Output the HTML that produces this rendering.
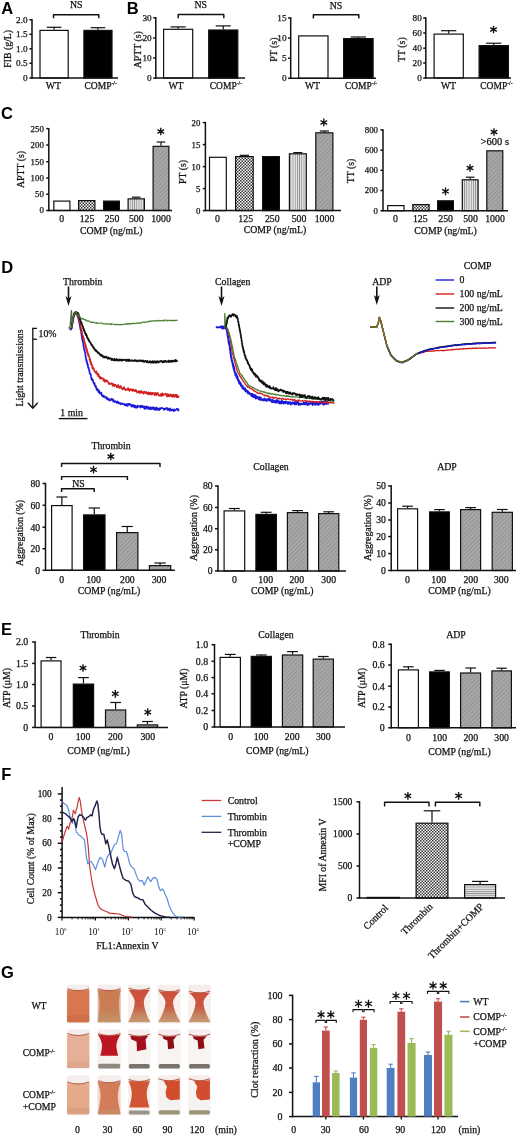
<!DOCTYPE html>
<html><head><meta charset="utf-8"><title>Figure</title>
<style>html,body{margin:0;padding:0;background:#fff;width:520px;height:1136px;overflow:hidden}svg{display:block;filter:blur(0.6px)}</style>
</head><body>
<svg width="520" height="1136" viewBox="0 0 520 1136"><defs>
<pattern id="chk" width="3" height="3" patternUnits="userSpaceOnUse"><rect width="3" height="3" fill="#fff"/><rect width="1.5" height="1.5" fill="#333"/><rect x="1.5" y="1.5" width="1.5" height="1.5" fill="#333"/></pattern>
<pattern id="vst" width="2.2" height="4" patternUnits="userSpaceOnUse"><rect width="2.2" height="4" fill="#e8e8e8"/><rect width="0.8" height="4" fill="#888"/></pattern>
<pattern id="hst" width="4" height="2.2" patternUnits="userSpaceOnUse"><rect width="4" height="2.2" fill="#e4e4e4"/><rect width="4" height="0.8" fill="#8a8a8a"/></pattern>
<pattern id="dg" width="3" height="3" patternUnits="userSpaceOnUse" patternTransform="rotate(45)"><rect width="3" height="3" fill="#a8a8a8"/><rect width="1" height="3" fill="#939393"/></pattern>
<linearGradient id="hg1" x1="0" y1="0" x2="0" y2="1"><stop offset="0" stop-color="#cf4e3c"/><stop offset="0.5" stop-color="#c95a42"/><stop offset="0.75" stop-color="#c48260"/><stop offset="1" stop-color="#c89a72"/></linearGradient><linearGradient id="hg2" x1="0" y1="0" x2="0" y2="1"><stop offset="0" stop-color="#cc7a52"/><stop offset="0.6" stop-color="#c97e56"/><stop offset="1" stop-color="#c49468"/></linearGradient><filter id="blur" x="-10%" y="-10%" width="120%" height="120%"><feGaussianBlur stdDeviation="0.7"/></filter></defs><rect width="520" height="1136" fill="#fff"/><text x="1.20" y="13.71" font-size="16.5" font-family='"Liberation Sans", sans-serif' font-weight="bold" fill="#000">A</text>
<line x1="32.00" y1="19.10" x2="32.00" y2="78.70" stroke="#111" stroke-width="1.5"/>
<line x1="29.40" y1="19.80" x2="32.00" y2="19.80" stroke="#111" stroke-width="1.5"/>
<text x="27.60" y="22.93" font-size="9.2" text-anchor="end" font-family='"Liberation Serif", serif' font-weight="normal" fill="#111" stroke="#111" stroke-width="0.25">2.0</text>
<line x1="29.40" y1="34.30" x2="32.00" y2="34.30" stroke="#111" stroke-width="1.5"/>
<text x="27.60" y="37.43" font-size="9.2" text-anchor="end" font-family='"Liberation Serif", serif' font-weight="normal" fill="#111" stroke="#111" stroke-width="0.25">1.5</text>
<line x1="29.40" y1="48.80" x2="32.00" y2="48.80" stroke="#111" stroke-width="1.5"/>
<text x="27.60" y="51.93" font-size="9.2" text-anchor="end" font-family='"Liberation Serif", serif' font-weight="normal" fill="#111" stroke="#111" stroke-width="0.25">1.0</text>
<line x1="29.40" y1="63.30" x2="32.00" y2="63.30" stroke="#111" stroke-width="1.5"/>
<text x="27.60" y="66.43" font-size="9.2" text-anchor="end" font-family='"Liberation Serif", serif' font-weight="normal" fill="#111" stroke="#111" stroke-width="0.25">0.5</text>
<line x1="29.40" y1="78.00" x2="32.00" y2="78.00" stroke="#111" stroke-width="1.5"/>
<text x="27.60" y="81.13" font-size="9.2" text-anchor="end" font-family='"Liberation Serif", serif' font-weight="normal" fill="#111" stroke="#111" stroke-width="0.25">0</text>
<rect x="40.00" y="30.40" width="28.20" height="47.60" fill="#fff" stroke="#111" stroke-width="1.2"/>
<line x1="54.10" y1="29.80" x2="54.10" y2="27.30" stroke="#111" stroke-width="1.2"/>
<line x1="46.75" y1="27.30" x2="61.45" y2="27.30" stroke="#111" stroke-width="1.2"/>
<rect x="83.90" y="30.40" width="28.10" height="47.60" fill="#000" stroke="#111" stroke-width="1.2"/>
<line x1="97.95" y1="29.80" x2="97.95" y2="27.70" stroke="#111" stroke-width="1.2"/>
<line x1="90.62" y1="27.70" x2="105.27" y2="27.70" stroke="#111" stroke-width="1.2"/>
<line x1="32.00" y1="78.00" x2="118.00" y2="78.00" stroke="#111" stroke-width="1.5"/>
<polyline points="53.5,18.2 53.5,14.7 98.8,14.7 98.8,18.2" fill="none" stroke="#111" stroke-width="1.45" stroke-linejoin="round"/>
<text x="76.30" y="8.33" font-size="9.8" text-anchor="middle" font-family='"Liberation Serif", serif' font-weight="normal" fill="#111" stroke="#111" stroke-width="0.25">NS</text>
<text x="53.40" y="89.13" font-size="9.8" text-anchor="middle" font-family='"Liberation Serif", serif' font-weight="normal" fill="#111" stroke="#111" stroke-width="0.25">WT</text>
<text x="84.49" y="88.83" font-size="9.5" font-family='"Liberation Serif", serif' fill="#111" stroke="#111" stroke-width="0.25">COMP<tspan font-size="5.70" dy="-3.61">-/-</tspan></text>
<text x="7.30" y="52.13" font-size="9.8" text-anchor="middle" font-family='"Liberation Serif", serif' font-weight="normal" fill="#111" stroke="#111" stroke-width="0.25" transform="rotate(-90 7.30 48.80)">FIB (g/L)</text>
<text x="126.70" y="13.71" font-size="16.5" font-family='"Liberation Sans", sans-serif' font-weight="bold" fill="#000">B</text>
<line x1="155.80" y1="17.10" x2="155.80" y2="78.80" stroke="#111" stroke-width="1.5"/>
<line x1="153.20" y1="17.80" x2="155.80" y2="17.80" stroke="#111" stroke-width="1.5"/>
<text x="151.60" y="20.93" font-size="9.2" text-anchor="end" font-family='"Liberation Serif", serif' font-weight="normal" fill="#111" stroke="#111" stroke-width="0.25">30</text>
<line x1="153.20" y1="37.90" x2="155.80" y2="37.90" stroke="#111" stroke-width="1.5"/>
<text x="151.60" y="41.03" font-size="9.2" text-anchor="end" font-family='"Liberation Serif", serif' font-weight="normal" fill="#111" stroke="#111" stroke-width="0.25">20</text>
<line x1="153.20" y1="58.00" x2="155.80" y2="58.00" stroke="#111" stroke-width="1.5"/>
<text x="151.60" y="61.13" font-size="9.2" text-anchor="end" font-family='"Liberation Serif", serif' font-weight="normal" fill="#111" stroke="#111" stroke-width="0.25">10</text>
<line x1="153.20" y1="78.10" x2="155.80" y2="78.10" stroke="#111" stroke-width="1.5"/>
<text x="151.60" y="81.23" font-size="9.2" text-anchor="end" font-family='"Liberation Serif", serif' font-weight="normal" fill="#111" stroke="#111" stroke-width="0.25">0</text>
<rect x="163.60" y="29.30" width="29.10" height="48.80" fill="#fff" stroke="#111" stroke-width="1.2"/>
<line x1="178.15" y1="28.70" x2="178.15" y2="26.90" stroke="#111" stroke-width="1.2"/>
<line x1="170.57" y1="26.90" x2="185.73" y2="26.90" stroke="#111" stroke-width="1.2"/>
<rect x="208.70" y="30.00" width="29.10" height="48.10" fill="#000" stroke="#111" stroke-width="1.2"/>
<line x1="223.25" y1="29.40" x2="223.25" y2="25.90" stroke="#111" stroke-width="1.2"/>
<line x1="215.68" y1="25.90" x2="230.82" y2="25.90" stroke="#111" stroke-width="1.2"/>
<line x1="155.80" y1="78.10" x2="245.00" y2="78.10" stroke="#111" stroke-width="1.5"/>
<polyline points="178.2,18.2 178.2,14.5 223.8,14.5 223.8,18.2" fill="none" stroke="#111" stroke-width="1.45" stroke-linejoin="round"/>
<text x="200.80" y="8.33" font-size="9.8" text-anchor="middle" font-family='"Liberation Serif", serif' font-weight="normal" fill="#111" stroke="#111" stroke-width="0.25">NS</text>
<text x="176.00" y="89.13" font-size="9.8" text-anchor="middle" font-family='"Liberation Serif", serif' font-weight="normal" fill="#111" stroke="#111" stroke-width="0.25">WT</text>
<text x="209.79" y="88.83" font-size="9.5" font-family='"Liberation Serif", serif' fill="#111" stroke="#111" stroke-width="0.25">COMP<tspan font-size="5.70" dy="-3.61">-/-</tspan></text>
<text x="137.20" y="53.13" font-size="9.8" text-anchor="middle" font-family='"Liberation Serif", serif' font-weight="normal" fill="#111" stroke="#111" stroke-width="0.25" transform="rotate(-90 137.20 49.80)">APTT (s)</text>
<line x1="290.70" y1="17.30" x2="290.70" y2="79.00" stroke="#111" stroke-width="1.5"/>
<line x1="288.10" y1="18.00" x2="290.70" y2="18.00" stroke="#111" stroke-width="1.5"/>
<text x="286.50" y="21.13" font-size="9.2" text-anchor="end" font-family='"Liberation Serif", serif' font-weight="normal" fill="#111" stroke="#111" stroke-width="0.25">15</text>
<line x1="288.10" y1="38.10" x2="290.70" y2="38.10" stroke="#111" stroke-width="1.5"/>
<text x="286.50" y="41.23" font-size="9.2" text-anchor="end" font-family='"Liberation Serif", serif' font-weight="normal" fill="#111" stroke="#111" stroke-width="0.25">10</text>
<line x1="288.10" y1="58.20" x2="290.70" y2="58.20" stroke="#111" stroke-width="1.5"/>
<text x="286.50" y="61.33" font-size="9.2" text-anchor="end" font-family='"Liberation Serif", serif' font-weight="normal" fill="#111" stroke="#111" stroke-width="0.25">5</text>
<line x1="288.10" y1="78.30" x2="290.70" y2="78.30" stroke="#111" stroke-width="1.5"/>
<text x="286.50" y="81.43" font-size="9.2" text-anchor="end" font-family='"Liberation Serif", serif' font-weight="normal" fill="#111" stroke="#111" stroke-width="0.25">0</text>
<rect x="298.70" y="35.90" width="29.30" height="42.40" fill="#fff" stroke="#111" stroke-width="1.2"/>
<rect x="343.60" y="38.60" width="29.50" height="39.70" fill="#000" stroke="#111" stroke-width="1.2"/>
<line x1="358.35" y1="38.00" x2="358.35" y2="37.00" stroke="#111" stroke-width="1.2"/>
<line x1="350.68" y1="37.00" x2="366.03" y2="37.00" stroke="#111" stroke-width="1.2"/>
<line x1="290.50" y1="78.30" x2="376.00" y2="78.30" stroke="#111" stroke-width="1.5"/>
<polyline points="313.4,18.6 313.4,14.8 358.8,14.8 358.8,18.6" fill="none" stroke="#111" stroke-width="1.45" stroke-linejoin="round"/>
<text x="336.00" y="8.63" font-size="9.8" text-anchor="middle" font-family='"Liberation Serif", serif' font-weight="normal" fill="#111" stroke="#111" stroke-width="0.25">NS</text>
<text x="312.50" y="89.13" font-size="9.8" text-anchor="middle" font-family='"Liberation Serif", serif' font-weight="normal" fill="#111" stroke="#111" stroke-width="0.25">WT</text>
<text x="344.89" y="88.83" font-size="9.5" font-family='"Liberation Serif", serif' fill="#111" stroke="#111" stroke-width="0.25">COMP<tspan font-size="5.70" dy="-3.61">-/-</tspan></text>
<text x="273.60" y="52.93" font-size="9.8" text-anchor="middle" font-family='"Liberation Serif", serif' font-weight="normal" fill="#111" stroke="#111" stroke-width="0.25" transform="rotate(-90 273.60 49.60)">PT (s)</text>
<line x1="425.80" y1="17.30" x2="425.80" y2="78.70" stroke="#111" stroke-width="1.5"/>
<line x1="423.20" y1="18.00" x2="425.80" y2="18.00" stroke="#111" stroke-width="1.5"/>
<text x="421.80" y="21.13" font-size="9.2" text-anchor="end" font-family='"Liberation Serif", serif' font-weight="normal" fill="#111" stroke="#111" stroke-width="0.25">80</text>
<line x1="423.20" y1="33.00" x2="425.80" y2="33.00" stroke="#111" stroke-width="1.5"/>
<text x="421.80" y="36.13" font-size="9.2" text-anchor="end" font-family='"Liberation Serif", serif' font-weight="normal" fill="#111" stroke="#111" stroke-width="0.25">60</text>
<line x1="423.20" y1="48.20" x2="425.80" y2="48.20" stroke="#111" stroke-width="1.5"/>
<text x="421.80" y="51.33" font-size="9.2" text-anchor="end" font-family='"Liberation Serif", serif' font-weight="normal" fill="#111" stroke="#111" stroke-width="0.25">40</text>
<line x1="423.20" y1="63.00" x2="425.80" y2="63.00" stroke="#111" stroke-width="1.5"/>
<text x="421.80" y="66.13" font-size="9.2" text-anchor="end" font-family='"Liberation Serif", serif' font-weight="normal" fill="#111" stroke="#111" stroke-width="0.25">20</text>
<line x1="423.20" y1="78.00" x2="425.80" y2="78.00" stroke="#111" stroke-width="1.5"/>
<text x="421.80" y="81.13" font-size="9.2" text-anchor="end" font-family='"Liberation Serif", serif' font-weight="normal" fill="#111" stroke="#111" stroke-width="0.25">0</text>
<rect x="434.10" y="34.10" width="29.20" height="43.90" fill="#fff" stroke="#111" stroke-width="1.2"/>
<line x1="448.70" y1="33.50" x2="448.70" y2="30.70" stroke="#111" stroke-width="1.2"/>
<line x1="441.10" y1="30.70" x2="456.30" y2="30.70" stroke="#111" stroke-width="1.2"/>
<rect x="479.10" y="45.60" width="29.30" height="32.40" fill="#000" stroke="#111" stroke-width="1.2"/>
<line x1="493.75" y1="45.00" x2="493.75" y2="43.20" stroke="#111" stroke-width="1.2"/>
<line x1="486.12" y1="43.20" x2="501.38" y2="43.20" stroke="#111" stroke-width="1.2"/>
<line x1="425.40" y1="78.00" x2="511.00" y2="78.00" stroke="#111" stroke-width="1.5"/>
<path d="M493.50,33.35L493.50,25.65M490.17,31.43L496.83,27.57M490.17,27.57L496.83,31.43" stroke="#111" stroke-width="1.35" fill="none"/>
<text x="448.50" y="89.13" font-size="9.8" text-anchor="middle" font-family='"Liberation Serif", serif' font-weight="normal" fill="#111" stroke="#111" stroke-width="0.25">WT</text>
<text x="480.29" y="88.83" font-size="9.5" font-family='"Liberation Serif", serif' fill="#111" stroke="#111" stroke-width="0.25">COMP<tspan font-size="5.70" dy="-3.61">-/-</tspan></text>
<text x="401.90" y="52.93" font-size="9.8" text-anchor="middle" font-family='"Liberation Serif", serif' font-weight="normal" fill="#111" stroke="#111" stroke-width="0.25" transform="rotate(-90 401.90 49.60)">TT (s)</text>
<text x="1.00" y="118.61" font-size="16.5" font-family='"Liberation Sans", sans-serif' font-weight="bold" fill="#000">C</text>
<line x1="48.80" y1="127.90" x2="48.80" y2="211.20" stroke="#111" stroke-width="1.5"/>
<line x1="46.20" y1="128.60" x2="48.80" y2="128.60" stroke="#111" stroke-width="1.5"/>
<text x="43.80" y="131.59" font-size="8.8" text-anchor="end" font-family='"Liberation Serif", serif' font-weight="normal" fill="#111" stroke="#111" stroke-width="0.25">250</text>
<line x1="46.20" y1="145.00" x2="48.80" y2="145.00" stroke="#111" stroke-width="1.5"/>
<text x="43.80" y="147.99" font-size="8.8" text-anchor="end" font-family='"Liberation Serif", serif' font-weight="normal" fill="#111" stroke="#111" stroke-width="0.25">200</text>
<line x1="46.20" y1="161.75" x2="48.80" y2="161.75" stroke="#111" stroke-width="1.5"/>
<text x="43.80" y="164.74" font-size="8.8" text-anchor="end" font-family='"Liberation Serif", serif' font-weight="normal" fill="#111" stroke="#111" stroke-width="0.25">150</text>
<line x1="46.20" y1="178.00" x2="48.80" y2="178.00" stroke="#111" stroke-width="1.5"/>
<text x="43.80" y="180.99" font-size="8.8" text-anchor="end" font-family='"Liberation Serif", serif' font-weight="normal" fill="#111" stroke="#111" stroke-width="0.25">100</text>
<line x1="46.20" y1="194.25" x2="48.80" y2="194.25" stroke="#111" stroke-width="1.5"/>
<text x="43.80" y="197.24" font-size="8.8" text-anchor="end" font-family='"Liberation Serif", serif' font-weight="normal" fill="#111" stroke="#111" stroke-width="0.25">50</text>
<line x1="46.20" y1="210.50" x2="48.80" y2="210.50" stroke="#111" stroke-width="1.5"/>
<text x="43.80" y="213.49" font-size="8.8" text-anchor="end" font-family='"Liberation Serif", serif' font-weight="normal" fill="#111" stroke="#111" stroke-width="0.25">0</text>
<rect x="53.85" y="201.10" width="16.05" height="9.40" fill="#fff" stroke="#111" stroke-width="1.2"/>
<rect x="78.60" y="200.60" width="16.30" height="9.90" fill="url(#chk)" stroke="#111" stroke-width="1.2"/>
<rect x="103.60" y="201.10" width="15.80" height="9.40" fill="#000" stroke="#111" stroke-width="1.2"/>
<rect x="128.10" y="198.85" width="16.30" height="11.65" fill="url(#vst)" stroke="#111" stroke-width="1.2"/>
<line x1="136.25" y1="198.25" x2="136.25" y2="197.20" stroke="#111" stroke-width="1.2"/>
<line x1="131.88" y1="197.20" x2="140.62" y2="197.20" stroke="#111" stroke-width="1.2"/>
<rect x="153.10" y="146.35" width="15.80" height="64.15" fill="url(#dg)" stroke="#111" stroke-width="1.2"/>
<line x1="161.00" y1="145.75" x2="161.00" y2="142.00" stroke="#111" stroke-width="1.2"/>
<line x1="156.75" y1="142.00" x2="165.25" y2="142.00" stroke="#111" stroke-width="1.2"/>
<line x1="48.80" y1="210.50" x2="172.00" y2="210.50" stroke="#111" stroke-width="1.5"/>
<text x="61.60" y="221.83" font-size="9.8" text-anchor="middle" font-family='"Liberation Serif", serif' font-weight="normal" fill="#111" stroke="#111" stroke-width="0.25">0</text>
<text x="87.00" y="221.83" font-size="9.8" text-anchor="middle" font-family='"Liberation Serif", serif' font-weight="normal" fill="#111" stroke="#111" stroke-width="0.25">125</text>
<text x="112.00" y="221.83" font-size="9.8" text-anchor="middle" font-family='"Liberation Serif", serif' font-weight="normal" fill="#111" stroke="#111" stroke-width="0.25">250</text>
<text x="136.30" y="221.83" font-size="9.8" text-anchor="middle" font-family='"Liberation Serif", serif' font-weight="normal" fill="#111" stroke="#111" stroke-width="0.25">500</text>
<text x="161.00" y="221.83" font-size="9.8" text-anchor="middle" font-family='"Liberation Serif", serif' font-weight="normal" fill="#111" stroke="#111" stroke-width="0.25">1000</text>
<text x="111.20" y="234.03" font-size="9.8" text-anchor="middle" font-family='"Liberation Serif", serif' font-weight="normal" fill="#111" stroke="#111" stroke-width="0.25">COMP (ng/mL)</text>
<text x="20.50" y="172.83" font-size="9.8" text-anchor="middle" font-family='"Liberation Serif", serif' font-weight="normal" fill="#111" stroke="#111" stroke-width="0.25" transform="rotate(-90 20.50 169.50)">APTT (s)</text>
<path d="M160.80,135.35L160.80,127.65M157.47,133.43L164.13,129.57M157.47,129.57L164.13,133.43" stroke="#111" stroke-width="1.35" fill="none"/>
<line x1="205.40" y1="121.90" x2="205.40" y2="211.30" stroke="#111" stroke-width="1.5"/>
<line x1="202.80" y1="122.60" x2="205.40" y2="122.60" stroke="#111" stroke-width="1.5"/>
<text x="200.40" y="125.59" font-size="8.8" text-anchor="end" font-family='"Liberation Serif", serif' font-weight="normal" fill="#111" stroke="#111" stroke-width="0.25">20</text>
<line x1="202.80" y1="144.60" x2="205.40" y2="144.60" stroke="#111" stroke-width="1.5"/>
<text x="200.40" y="147.59" font-size="8.8" text-anchor="end" font-family='"Liberation Serif", serif' font-weight="normal" fill="#111" stroke="#111" stroke-width="0.25">15</text>
<line x1="202.80" y1="166.60" x2="205.40" y2="166.60" stroke="#111" stroke-width="1.5"/>
<text x="200.40" y="169.59" font-size="8.8" text-anchor="end" font-family='"Liberation Serif", serif' font-weight="normal" fill="#111" stroke="#111" stroke-width="0.25">10</text>
<line x1="202.80" y1="188.60" x2="205.40" y2="188.60" stroke="#111" stroke-width="1.5"/>
<text x="200.40" y="191.59" font-size="8.8" text-anchor="end" font-family='"Liberation Serif", serif' font-weight="normal" fill="#111" stroke="#111" stroke-width="0.25">5</text>
<line x1="202.80" y1="210.60" x2="205.40" y2="210.60" stroke="#111" stroke-width="1.5"/>
<text x="200.40" y="213.59" font-size="8.8" text-anchor="end" font-family='"Liberation Serif", serif' font-weight="normal" fill="#111" stroke="#111" stroke-width="0.25">0</text>
<rect x="209.50" y="157.30" width="16.80" height="53.30" fill="#fff" stroke="#111" stroke-width="1.2"/>
<rect x="235.60" y="156.60" width="17.60" height="54.00" fill="url(#chk)" stroke="#111" stroke-width="1.2"/>
<line x1="244.40" y1="156.00" x2="244.40" y2="155.30" stroke="#111" stroke-width="1.2"/>
<line x1="239.70" y1="155.30" x2="249.10" y2="155.30" stroke="#111" stroke-width="1.2"/>
<rect x="262.60" y="156.60" width="16.80" height="54.00" fill="#000" stroke="#111" stroke-width="1.2"/>
<rect x="289.40" y="153.80" width="16.90" height="56.80" fill="url(#vst)" stroke="#111" stroke-width="1.2"/>
<line x1="297.85" y1="153.20" x2="297.85" y2="152.60" stroke="#111" stroke-width="1.2"/>
<line x1="293.33" y1="152.60" x2="302.38" y2="152.60" stroke="#111" stroke-width="1.2"/>
<rect x="315.80" y="132.80" width="17.10" height="77.80" fill="url(#dg)" stroke="#111" stroke-width="1.2"/>
<line x1="324.35" y1="132.20" x2="324.35" y2="131.00" stroke="#111" stroke-width="1.2"/>
<line x1="319.78" y1="131.00" x2="328.93" y2="131.00" stroke="#111" stroke-width="1.2"/>
<line x1="205.40" y1="210.60" x2="341.00" y2="210.60" stroke="#111" stroke-width="1.5"/>
<text x="217.50" y="221.63" font-size="9.8" text-anchor="middle" font-family='"Liberation Serif", serif' font-weight="normal" fill="#111" stroke="#111" stroke-width="0.25">0</text>
<text x="245.70" y="221.63" font-size="9.8" text-anchor="middle" font-family='"Liberation Serif", serif' font-weight="normal" fill="#111" stroke="#111" stroke-width="0.25">125</text>
<text x="272.30" y="221.63" font-size="9.8" text-anchor="middle" font-family='"Liberation Serif", serif' font-weight="normal" fill="#111" stroke="#111" stroke-width="0.25">250</text>
<text x="299.00" y="221.63" font-size="9.8" text-anchor="middle" font-family='"Liberation Serif", serif' font-weight="normal" fill="#111" stroke="#111" stroke-width="0.25">500</text>
<text x="324.50" y="221.63" font-size="9.8" text-anchor="middle" font-family='"Liberation Serif", serif' font-weight="normal" fill="#111" stroke="#111" stroke-width="0.25">1000</text>
<text x="274.90" y="233.33" font-size="9.8" text-anchor="middle" font-family='"Liberation Serif", serif' font-weight="normal" fill="#111" stroke="#111" stroke-width="0.25">COMP (ng/mL)</text>
<text x="182.60" y="175.33" font-size="9.8" text-anchor="middle" font-family='"Liberation Serif", serif' font-weight="normal" fill="#111" stroke="#111" stroke-width="0.25" transform="rotate(-90 182.60 172.00)">PT (s)</text>
<path d="M323.80,126.25L323.80,118.55M320.47,124.33L327.13,120.48M320.47,120.48L327.13,124.33" stroke="#111" stroke-width="1.35" fill="none"/>
<line x1="383.00" y1="129.30" x2="383.00" y2="211.40" stroke="#111" stroke-width="1.5"/>
<line x1="380.40" y1="130.00" x2="383.00" y2="130.00" stroke="#111" stroke-width="1.5"/>
<text x="378.00" y="132.99" font-size="8.8" text-anchor="end" font-family='"Liberation Serif", serif' font-weight="normal" fill="#111" stroke="#111" stroke-width="0.25">800</text>
<line x1="380.40" y1="150.20" x2="383.00" y2="150.20" stroke="#111" stroke-width="1.5"/>
<text x="378.00" y="153.19" font-size="8.8" text-anchor="end" font-family='"Liberation Serif", serif' font-weight="normal" fill="#111" stroke="#111" stroke-width="0.25">600</text>
<line x1="380.40" y1="170.30" x2="383.00" y2="170.30" stroke="#111" stroke-width="1.5"/>
<text x="378.00" y="173.29" font-size="8.8" text-anchor="end" font-family='"Liberation Serif", serif' font-weight="normal" fill="#111" stroke="#111" stroke-width="0.25">400</text>
<line x1="380.40" y1="190.50" x2="383.00" y2="190.50" stroke="#111" stroke-width="1.5"/>
<text x="378.00" y="193.49" font-size="8.8" text-anchor="end" font-family='"Liberation Serif", serif' font-weight="normal" fill="#111" stroke="#111" stroke-width="0.25">200</text>
<line x1="380.40" y1="210.70" x2="383.00" y2="210.70" stroke="#111" stroke-width="1.5"/>
<text x="378.00" y="213.69" font-size="8.8" text-anchor="end" font-family='"Liberation Serif", serif' font-weight="normal" fill="#111" stroke="#111" stroke-width="0.25">0</text>
<rect x="387.70" y="205.60" width="16.30" height="5.10" fill="#fff" stroke="#111" stroke-width="1.2"/>
<rect x="412.80" y="204.60" width="16.30" height="6.10" fill="url(#chk)" stroke="#111" stroke-width="1.2"/>
<rect x="437.60" y="200.80" width="15.80" height="9.90" fill="#000" stroke="#111" stroke-width="1.2"/>
<rect x="462.30" y="179.80" width="15.80" height="30.90" fill="url(#vst)" stroke="#111" stroke-width="1.2"/>
<line x1="470.20" y1="179.20" x2="470.20" y2="177.20" stroke="#111" stroke-width="1.2"/>
<line x1="465.95" y1="177.20" x2="474.45" y2="177.20" stroke="#111" stroke-width="1.2"/>
<rect x="486.80" y="150.80" width="16.00" height="59.90" fill="url(#dg)" stroke="#111" stroke-width="1.2"/>
<line x1="383.00" y1="210.70" x2="508.00" y2="210.70" stroke="#111" stroke-width="1.5"/>
<text x="395.40" y="221.63" font-size="9.8" text-anchor="middle" font-family='"Liberation Serif", serif' font-weight="normal" fill="#111" stroke="#111" stroke-width="0.25">0</text>
<text x="420.30" y="221.63" font-size="9.8" text-anchor="middle" font-family='"Liberation Serif", serif' font-weight="normal" fill="#111" stroke="#111" stroke-width="0.25">125</text>
<text x="445.60" y="221.63" font-size="9.8" text-anchor="middle" font-family='"Liberation Serif", serif' font-weight="normal" fill="#111" stroke="#111" stroke-width="0.25">250</text>
<text x="470.50" y="221.63" font-size="9.8" text-anchor="middle" font-family='"Liberation Serif", serif' font-weight="normal" fill="#111" stroke="#111" stroke-width="0.25">500</text>
<text x="495.00" y="221.63" font-size="9.8" text-anchor="middle" font-family='"Liberation Serif", serif' font-weight="normal" fill="#111" stroke="#111" stroke-width="0.25">1000</text>
<text x="445.60" y="233.83" font-size="9.8" text-anchor="middle" font-family='"Liberation Serif", serif' font-weight="normal" fill="#111" stroke="#111" stroke-width="0.25">COMP (ng/mL)</text>
<text x="351.00" y="174.33" font-size="9.8" text-anchor="middle" font-family='"Liberation Serif", serif' font-weight="normal" fill="#111" stroke="#111" stroke-width="0.25" transform="rotate(-90 351.00 171.00)">TT (s)</text>
<path d="M445.50,195.15L445.50,187.45M442.17,193.23L448.83,189.38M442.17,189.38L448.83,193.23" stroke="#111" stroke-width="1.35" fill="none"/>
<path d="M470.00,171.85L470.00,164.15M466.67,169.93L473.33,166.07M466.67,166.07L473.33,169.93" stroke="#111" stroke-width="1.35" fill="none"/>
<path d="M494.00,135.85L494.00,128.15M490.67,133.93L497.33,130.07M490.67,130.07L497.33,133.93" stroke="#111" stroke-width="1.35" fill="none"/>
<text x="494.80" y="145.07" font-size="10.5" text-anchor="middle" font-family='"Liberation Serif", serif' font-weight="normal" fill="#111" stroke="#111" stroke-width="0.25">&gt;600 s</text>
<text x="1.20" y="273.01" font-size="16.5" font-family='"Liberation Sans", sans-serif' font-weight="bold" fill="#000">D</text>
<text x="82.70" y="285.13" font-size="9.8" text-anchor="middle" font-family='"Liberation Serif", serif' font-weight="normal" fill="#111" stroke="#111" stroke-width="0.25">Thrombin</text>
<line x1="68.50" y1="286.50" x2="68.50" y2="301.00" stroke="#111" stroke-width="1.6"/>
<path d="M65.50,296.00 L68.50,298.50 L71.50,296.00 L68.50,306.00 Z" fill="#111"/>
<text x="232.70" y="285.13" font-size="9.8" text-anchor="middle" font-family='"Liberation Serif", serif' font-weight="normal" fill="#111" stroke="#111" stroke-width="0.25">Collagen</text>
<line x1="221.50" y1="286.50" x2="221.50" y2="301.00" stroke="#111" stroke-width="1.6"/>
<path d="M218.50,296.00 L221.50,298.50 L224.50,296.00 L221.50,306.00 Z" fill="#111"/>
<text x="382.00" y="285.13" font-size="9.8" text-anchor="middle" font-family='"Liberation Serif", serif' font-weight="normal" fill="#111" stroke="#111" stroke-width="0.25">ADP</text>
<line x1="376.80" y1="286.50" x2="376.80" y2="300.00" stroke="#111" stroke-width="1.6"/>
<path d="M373.80,295.00 L376.80,297.50 L379.80,295.00 L376.80,305.00 Z" fill="#111"/>
<line x1="32.80" y1="327.70" x2="32.80" y2="408.00" stroke="#111" stroke-width="1.3"/>
<polyline points="27.9,402.8 32.8,408.2 37.7,402.8" fill="none" stroke="#111" stroke-width="1.4" stroke-linejoin="round"/>
<polyline points="36.9,328.4 32.8,328.4" fill="none" stroke="#111" stroke-width="1.3" stroke-linejoin="round"/>
<polyline points="36.9,339.2 32.8,339.2" fill="none" stroke="#111" stroke-width="1.3" stroke-linejoin="round"/>
<text x="38.50" y="337.13" font-size="9.8" text-anchor="start" font-family='"Liberation Serif", serif' font-weight="normal" fill="#111" stroke="#111" stroke-width="0.25">10%</text>
<text x="19.60" y="371.33" font-size="9.8" text-anchor="middle" font-family='"Liberation Serif", serif' font-weight="normal" fill="#111" stroke="#111" stroke-width="0.25" transform="rotate(-90 19.60 368.00)">Light transmissions</text>
<line x1="58.75" y1="418.60" x2="87.50" y2="418.60" stroke="#111" stroke-width="1.4"/>
<text x="71.60" y="416.33" font-size="9.8" text-anchor="middle" font-family='"Liberation Serif", serif' font-weight="normal" fill="#111" stroke="#111" stroke-width="0.25">1 min</text>
<polyline points="71.5,328.5 71.6,328.1 71.6,327.6 71.7,327.2 71.8,326.7 71.8,326.3 71.9,325.8 72.0,325.4 72.0,323.6 72.1,324.3 72.2,322.8 72.3,322.4 72.3,322.9 72.4,323.6 72.5,321.2 72.5,321.0 72.6,321.7 72.7,322.1 72.7,320.7 72.8,319.7 72.9,320.9 73.0,317.8 73.1,319.6 73.2,317.6 73.3,316.7 73.4,316.2 73.6,316.2 73.7,317.2 73.8,315.0 73.9,315.6 74.0,315.3 74.1,314.1 74.2,314.1 74.6,312.5 75.0,312.2 75.4,312.3 75.8,313.4 76.2,312.4 76.4,312.5 76.6,313.7 76.7,313.7 76.9,313.7 77.1,315.5 77.3,315.6 77.4,314.8 77.6,316.1 77.8,316.4 78.0,317.8 78.1,317.8 78.3,317.0 78.5,319.3 78.6,317.4 78.7,318.7 78.7,320.1 78.8,318.8 78.9,320.2 79.0,319.4 79.1,321.6 79.2,322.3 79.2,322.2 79.3,323.5 79.4,322.4 79.5,323.9 79.6,324.1 79.6,324.5 79.7,324.6 79.8,326.1 79.9,326.9 80.0,326.0 80.1,327.0 80.1,325.7 80.2,328.0 80.3,328.3 80.4,329.7 80.5,329.7 80.5,328.6 80.6,329.4 80.7,330.6 80.8,329.2 80.9,330.9 80.9,330.5 81.0,330.8 81.1,331.1 81.2,333.6 81.3,332.2 81.4,333.0 81.4,333.9 81.5,335.7 81.6,333.9 81.7,335.4 81.8,336.1 81.8,337.5 81.9,337.8 82.0,338.3 82.1,337.1 82.2,338.0 82.3,338.3 82.3,340.2 82.4,340.8 82.5,339.0 82.6,339.5 82.7,340.1 82.8,340.6 82.8,341.7 82.9,342.5 83.0,342.0 83.1,341.7 83.2,343.3 83.2,343.6 83.3,344.6 83.4,346.2 83.5,345.9 83.6,345.8 83.7,346.6 83.8,347.2 83.8,345.9 83.9,348.7 84.0,348.8 84.1,349.5 84.2,349.7 84.2,349.0 84.3,349.5 84.4,349.1 84.5,351.0 84.6,349.9 84.7,350.3 84.8,351.2 84.8,351.5 84.9,352.4 85.0,352.1 85.1,352.4 85.2,353.2 85.2,353.6 85.3,354.7 85.4,354.2 85.5,357.0 85.6,356.8 85.7,355.9 85.8,356.6 85.8,357.4 85.9,357.8 86.0,357.6 86.1,360.1 86.2,360.9 86.2,359.9 86.4,360.4 86.5,359.7 86.6,360.2 86.8,361.3 86.9,361.5 87.0,363.5 87.1,362.1 87.2,362.2 87.4,365.2 87.5,364.5 87.6,363.8 87.8,365.4 87.9,364.4 88.0,366.2 88.1,367.9 88.2,368.0 88.4,368.0 88.5,367.2 88.6,367.9 88.8,367.8 88.9,369.9 89.0,369.7 89.1,370.8 89.2,370.0 89.4,370.2 89.5,372.2 89.6,373.2 89.8,373.2 89.9,373.5 90.0,374.0 90.1,374.2 90.2,373.2 90.4,374.5 90.5,374.5 90.6,374.0 90.8,374.4 90.9,375.6 91.0,376.0 91.1,377.6 91.2,378.8 91.5,377.8 91.7,379.5 91.9,380.1 92.1,380.4 92.3,379.1 92.5,379.1 92.7,379.6 92.9,379.9 93.1,380.3 93.3,381.9 93.5,383.1 93.7,383.3 93.9,382.7 94.1,383.6 94.3,384.4 94.5,382.8 94.7,384.8 94.9,385.9 95.1,386.0 95.3,386.3 95.5,385.9 95.7,385.5 95.9,387.6 96.1,386.7 96.3,388.4 96.5,389.3 96.7,388.1 96.9,388.5 97.1,390.4 97.3,390.2 97.5,389.1 97.8,389.3 98.2,389.7 98.5,392.1 98.8,392.2 99.1,390.6 99.5,392.9 99.8,393.6 100.1,393.0 100.4,392.5 100.8,393.4 101.1,392.6 101.4,392.6 101.7,395.6 102.1,395.0 102.4,395.0 102.7,396.4 103.0,395.4 103.4,396.9 103.7,397.1 104.0,395.7 104.3,396.2 104.7,396.6 105.0,396.8 105.4,397.9 105.9,397.2 106.3,397.8 106.7,397.2 107.2,399.5 107.6,398.1 108.0,398.6 108.4,399.1 108.9,400.2 109.3,399.0 109.7,400.6 110.2,399.6 110.6,399.8 111.0,400.0 111.5,398.7 111.9,400.1 112.3,399.5 112.8,399.2 113.2,401.6 113.6,400.0 114.1,401.0 114.5,401.9 114.9,401.6 115.3,401.2 115.8,401.9 116.2,402.1 116.6,403.0 117.1,401.2 117.5,402.7 117.9,401.9 118.4,402.1 118.8,403.6 119.3,402.9 119.7,403.2 120.2,403.8 120.6,404.3 121.1,403.1 121.5,403.7 122.0,403.5 122.4,403.6 122.9,404.2 123.3,403.6 123.8,403.9 124.2,403.9 124.7,405.3 125.1,404.7 125.6,405.3 126.0,405.6 126.5,403.7 126.9,404.7 127.4,405.9 127.8,405.7 128.3,403.8 128.7,403.8 129.2,404.8 129.6,403.9 130.1,404.5 130.5,404.1 131.0,405.9 131.4,406.3 131.9,406.7 132.3,404.7 132.8,406.4 133.2,406.3 133.7,405.0 134.1,407.1 134.6,407.5 135.0,405.5 135.5,407.6 135.9,406.1 136.4,406.4 136.8,407.8 137.3,407.5 137.7,405.6 138.2,406.5 138.6,406.7 139.1,406.3 139.5,406.0 140.0,406.4 140.5,407.6 140.9,405.6 141.4,407.2 141.8,406.9 142.3,405.8 142.7,406.7 143.2,407.6 143.6,407.4 144.1,406.2 144.5,408.8 145.0,408.3 145.5,408.9 145.9,406.5 146.4,407.0 146.8,406.4 147.3,408.6 147.7,407.2 148.2,406.9 148.6,407.7 149.1,409.2 149.5,409.0 150.0,407.4 150.5,407.2 150.9,409.4 151.4,408.5 151.8,408.9 152.3,407.3 152.7,407.2 153.2,409.0 153.6,408.4 154.1,407.4 154.5,409.9 155.0,409.1 155.5,409.6 155.9,407.6 156.4,409.8 156.8,407.6 157.3,409.9 157.7,408.8 158.2,408.5 158.7,409.1 159.1,410.2 159.6,408.3 160.0,408.0 160.5,409.1 160.9,408.3 161.4,408.0 161.9,408.2 162.3,407.9 162.8,408.3 163.2,408.7 163.7,408.7 164.1,410.0 164.6,408.7 165.0,409.3 165.5,408.4 166.0,408.9 166.4,408.0 166.9,408.7 167.3,408.0 167.8,410.1 168.2,409.6 168.7,408.6 169.2,409.4 169.6,410.7 170.1,408.4 170.5,410.5 171.0,409.4 171.4,409.6 171.9,410.6 172.4,409.4 172.8,409.7 173.3,410.2 173.7,411.1 174.2,409.3 174.6,410.7 175.1,410.4 175.6,410.2 176.0,409.6 176.5,409.5 176.9,408.7 177.4,408.9 177.8,408.7 178.3,410.7 178.8,409.3" fill="none" stroke="#1c1cd8" stroke-width="1.6" stroke-linejoin="round"/>
<polyline points="71.5,328.5 71.6,328.1 71.6,327.6 71.7,327.2 71.8,326.7 71.8,326.3 71.9,325.8 72.0,325.4 72.0,324.8 72.1,323.5 72.2,323.9 72.3,322.9 72.3,324.4 72.4,324.0 72.5,322.4 72.5,321.1 72.6,322.6 72.7,320.4 72.7,320.0 72.8,318.6 72.9,319.2 73.0,319.0 73.1,318.6 73.2,317.3 73.3,317.7 73.4,315.8 73.6,316.1 73.7,315.2 73.8,315.6 73.9,314.1 74.0,313.6 74.1,313.9 74.2,313.3 74.6,314.0 75.0,313.5 75.4,313.9 75.8,313.3 76.2,313.2 76.5,314.0 76.7,313.0 77.0,313.2 77.2,315.5 77.5,313.5 77.7,315.5 78.0,315.6 78.2,314.3 78.5,316.9 78.6,317.5 78.7,317.2 78.8,318.0 78.9,318.6 79.0,317.2 79.1,318.7 79.2,319.1 79.2,320.5 79.3,320.8 79.4,321.3 79.5,321.1 79.6,322.4 79.7,322.3 79.8,322.7 79.9,321.9 80.0,321.8 80.1,322.5 80.2,323.6 80.3,323.3 80.4,325.8 80.5,325.4 80.5,326.1 80.6,326.5 80.7,327.1 80.8,327.0 80.9,326.1 81.0,328.8 81.1,329.1 81.2,328.8 81.3,329.4 81.4,330.1 81.5,328.9 81.6,331.2 81.7,330.3 81.8,330.3 81.8,331.3 81.9,333.0 82.0,332.0 82.1,333.9 82.2,335.0 82.3,334.1 82.4,334.2 82.5,334.9 82.6,336.0 82.8,336.6 82.9,336.6 83.0,337.1 83.1,336.0 83.2,336.6 83.4,337.4 83.5,339.2 83.6,338.4 83.8,339.6 83.9,338.4 84.0,339.0 84.1,340.0 84.2,341.6 84.4,342.1 84.5,342.5 84.6,341.9 84.8,342.9 84.9,343.2 85.0,343.7 85.1,343.1 85.2,345.7 85.4,344.2 85.5,346.8 85.6,347.2 85.8,345.0 85.9,346.7 86.0,348.1 86.1,349.0 86.2,348.0 86.4,347.9 86.5,348.2 86.6,350.7 86.8,349.1 86.9,350.5 87.0,349.7 87.1,351.3 87.2,352.9 87.4,351.0 87.5,353.4 87.6,353.0 87.8,354.4 87.9,354.4 88.1,353.5 88.2,355.8 88.4,355.0 88.5,354.2 88.6,354.5 88.8,356.3 88.9,356.6 89.1,356.7 89.2,356.6 89.4,357.6 89.5,358.0 89.6,359.9 89.8,358.0 89.9,360.5 90.1,361.2 90.2,359.6 90.4,362.3 90.5,362.1 90.6,363.1 90.8,361.8 90.9,362.4 91.1,362.9 91.2,365.0 91.4,364.3 91.5,364.1 91.6,364.7 91.8,364.7 91.9,364.5 92.1,365.1 92.2,367.6 92.4,366.5 92.5,368.7 92.8,367.2 93.1,367.6 93.3,368.6 93.6,368.1 93.9,369.0 94.2,371.0 94.4,371.2 94.7,371.3 95.0,371.2 95.3,372.4 95.6,372.8 95.8,372.1 96.1,372.9 96.4,371.4 96.7,373.7 96.9,373.3 97.2,374.5 97.5,374.6 97.8,373.9 98.1,373.6 98.3,376.5 98.6,374.6 98.9,375.9 99.2,376.0 99.4,376.2 99.7,377.8 100.0,378.8 100.4,377.1 100.8,378.4 101.2,377.7 101.5,378.6 101.9,378.4 102.3,378.0 102.7,378.2 103.1,378.6 103.5,380.8 103.8,379.9 104.2,379.4 104.6,381.5 105.0,382.0 105.4,380.7 105.8,380.1 106.2,380.5 106.5,380.4 106.9,381.4 107.3,380.9 107.7,381.6 108.1,381.9 108.5,383.0 108.8,384.1 109.2,384.0 109.6,383.3 110.0,383.5 110.4,384.0 110.9,383.7 111.3,383.7 111.7,383.1 112.1,383.8 112.6,385.9 113.0,383.7 113.4,384.9 113.9,385.4 114.3,386.2 114.7,384.5 115.1,384.8 115.6,384.9 116.0,385.5 116.4,385.7 116.9,387.3 117.3,387.2 117.7,387.4 118.1,385.1 118.6,385.3 119.0,387.3 119.4,388.0 119.9,387.0 120.3,387.4 120.7,385.9 121.1,387.2 121.6,388.8 122.0,388.7 122.4,388.9 122.9,389.4 123.3,387.5 123.7,387.2 124.1,387.5 124.6,388.7 125.0,389.3 125.4,390.1 125.9,389.6 126.3,389.5 126.8,389.9 127.2,389.1 127.7,389.5 128.1,388.1 128.6,390.3 129.0,388.9 129.5,390.9 129.9,390.2 130.4,389.4 130.8,389.0 131.3,389.4 131.7,390.6 132.2,390.8 132.6,389.3 133.1,389.3 133.5,390.6 134.0,390.9 134.4,390.5 134.9,390.1 135.3,391.2 135.8,389.7 136.2,390.6 136.7,391.1 137.1,392.6 137.6,391.8 138.0,392.6 138.5,391.6 138.9,391.0 139.4,391.1 139.8,393.2 140.3,392.6 140.7,391.6 141.2,390.9 141.6,392.3 142.1,392.9 142.5,392.3 142.9,391.9 143.4,393.1 143.8,393.8 144.3,391.9 144.7,391.5 145.2,392.4 145.6,392.6 146.1,393.4 146.5,392.1 147.0,393.8 147.4,393.7 147.9,393.1 148.3,392.3 148.8,394.5 149.2,392.7 149.7,394.2 150.1,392.6 150.6,392.6 151.0,394.2 151.5,393.0 151.9,394.8 152.4,393.6 152.8,392.8 153.3,393.0 153.7,393.5 154.2,394.3 154.6,395.1 155.1,392.9 155.5,393.7 156.0,393.2 156.4,395.4 156.9,393.1 157.3,392.9 157.8,393.0 158.2,394.0 158.7,395.5 159.1,395.5 159.6,395.1 160.0,395.9 160.5,395.8 160.9,394.1 161.4,393.7 161.8,395.9 162.3,395.4 162.7,393.4 163.2,395.3 163.7,394.5 164.1,394.5 164.6,394.5 165.0,394.0 165.5,393.6 165.9,394.4 166.4,394.7 166.9,396.4 167.3,394.1 167.8,396.5 168.2,394.4 168.7,394.9 169.1,396.3 169.6,396.3 170.1,395.2 170.5,394.2 171.0,395.5 171.4,395.2 171.9,396.8 172.3,394.8 172.8,395.3 173.3,396.8 173.7,394.5 174.2,395.6 174.6,396.7 175.1,396.7 175.5,394.7 176.0,394.7 176.5,394.8 176.9,397.3 177.4,395.4 177.8,396.9 178.3,397.3 178.8,395.8" fill="none" stroke="#d02020" stroke-width="1.6" stroke-linejoin="round"/>
<polyline points="71.5,328.5 71.6,328.0 71.7,327.5 71.7,327.0 71.8,326.5 71.9,326.0 72.0,325.5 72.0,325.0 72.1,325.0 72.2,324.7 72.3,323.7 72.3,323.8 72.4,321.6 72.5,321.5 72.6,321.5 72.6,321.8 72.7,321.3 72.8,319.8 72.9,319.1 73.0,318.9 73.2,318.5 73.3,318.8 73.4,316.9 73.5,317.5 73.6,316.9 73.7,316.6 73.8,316.0 74.0,315.2 74.1,314.2 74.2,313.7 74.7,313.4 75.2,313.8 75.7,312.2 76.2,312.1 76.7,313.3 77.1,312.7 77.6,312.7 78.0,312.9 78.5,314.1 78.7,314.2 78.8,315.9 79.0,316.2 79.1,316.9 79.2,316.1 79.4,316.3 79.5,316.8 79.7,318.0 79.8,318.9 80.0,318.9 80.2,319.0 80.4,319.8 80.5,320.7 80.7,321.2 80.9,321.9 81.1,322.5 81.2,322.7 81.4,322.2 81.6,324.0 81.8,323.5 82.0,324.4 82.1,324.6 82.3,325.7 82.5,325.2 82.7,325.8 82.9,326.3 83.0,326.6 83.2,328.4 83.4,328.3 83.6,328.3 83.8,328.9 83.9,330.5 84.1,330.1 84.3,330.1 84.5,331.6 84.6,331.8 84.8,332.9 85.0,331.8 85.2,332.9 85.5,334.0 85.7,334.5 85.9,335.1 86.1,333.9 86.4,334.9 86.6,335.0 86.8,335.6 87.0,337.4 87.3,337.2 87.5,338.3 87.7,337.7 88.0,339.1 88.2,338.8 88.4,338.9 88.6,340.3 88.9,341.0 89.1,340.0 89.3,341.3 89.5,341.8 89.8,341.5 90.0,342.3 90.3,342.3 90.6,342.8 90.8,343.3 91.1,344.3 91.4,344.9 91.7,344.5 91.9,344.5 92.2,345.5 92.5,346.6 92.8,346.1 93.1,346.7 93.3,347.0 93.6,348.4 93.9,348.4 94.2,348.0 94.4,348.4 94.7,349.4 95.0,350.1 95.4,350.6 95.8,349.9 96.2,350.4 96.6,351.7 97.0,351.5 97.4,351.6 97.8,352.0 98.2,353.4 98.6,352.6 98.9,353.4 99.3,353.4 99.7,353.8 100.1,354.9 100.5,355.5 100.9,354.7 101.3,354.7 101.7,356.0 102.1,355.4 102.5,355.4 103.0,357.1 103.5,356.4 103.9,357.3 104.4,356.7 104.9,357.7 105.4,357.1 105.8,356.7 106.3,356.6 106.8,357.7 107.3,358.1 107.7,358.7 108.2,357.4 108.7,358.5 109.2,358.2 109.6,358.6 110.1,358.1 110.6,358.5 111.1,359.1 111.5,360.0 112.0,358.6 112.5,359.5 113.0,360.1 113.5,360.4 114.0,359.0 114.5,358.9 115.0,360.4 115.5,360.5 116.0,359.7 116.5,358.9 117.0,360.5 117.5,359.6 118.0,360.5 118.5,360.1 119.0,360.5 119.5,359.3 120.0,360.4 120.5,359.5 121.0,359.8 121.5,360.6 122.0,360.6 122.5,359.5 123.0,359.6 123.5,359.9 124.0,360.2 124.5,360.0 125.0,359.5 125.5,359.8 126.0,360.7 126.5,361.0 127.0,359.5 127.5,360.5 128.0,360.8 128.5,359.6 129.0,361.1 129.5,359.8 130.0,360.7 130.5,360.6 131.0,360.8 131.5,360.2 132.0,360.5 132.5,360.8 133.0,360.5 133.5,361.0 134.0,360.6 134.5,360.7 135.0,359.9 135.5,361.0 136.0,360.8 136.5,360.4 137.0,361.4 137.5,361.5 138.0,360.9 138.5,360.4 139.0,361.0 139.5,360.4 140.0,360.4 140.5,361.0 141.0,360.4 141.5,361.1 142.0,361.2 142.5,360.4 143.0,361.5 143.5,360.6 144.0,361.8 144.5,361.9 145.0,361.4 145.5,360.6 146.0,361.5 146.5,361.3 147.0,362.3 147.5,360.9 148.0,362.2 148.5,362.5 149.0,362.1 149.5,362.2 150.0,361.1 150.5,362.6 151.0,361.7 151.5,362.6 152.0,362.6 152.5,361.2 153.0,362.4 153.5,362.7 154.0,361.2 154.5,361.7 155.0,362.5 155.5,361.4 156.0,362.7 156.5,361.5 157.0,362.5 157.5,361.2 158.0,361.8 158.5,362.6 159.0,361.3 159.5,361.3 160.0,361.7 160.5,361.4 161.0,360.8 161.5,361.1 162.0,361.0 162.5,362.4 163.0,361.9 163.5,362.2 164.0,360.9 164.5,362.0 165.0,360.8 165.5,361.5 166.0,361.6 166.5,361.1 167.0,362.0 167.5,361.4 168.0,361.4 168.5,361.9 169.0,360.5 169.5,362.1 170.0,361.4 170.5,360.9 171.0,361.6 171.5,360.7 172.0,361.9 172.5,361.2 173.0,360.7 173.5,361.4 174.0,360.8 174.5,360.3 175.0,361.3 175.5,360.0 176.0,361.4 176.5,360.4 177.0,361.0 177.5,361.6" fill="none" stroke="#111" stroke-width="1.7" stroke-linejoin="round"/>
<polyline points="71.5,328.5 71.6,327.9 71.7,327.3 71.8,326.7 71.9,326.1 72.0,325.5 72.1,324.9 72.2,324.2 72.2,323.7 72.3,323.4 72.4,322.1 72.5,321.6 72.6,321.4 72.7,320.2 72.8,319.6 72.9,319.3 73.1,318.4 73.2,318.1 73.4,317.4 73.5,317.1 73.6,316.5 73.8,315.5 73.9,315.3 74.1,314.6 74.2,313.7 74.7,314.0 75.2,313.1 75.7,312.6 76.2,312.2 76.6,313.2 77.0,313.9 77.3,314.3 77.7,314.5 78.1,314.8 78.5,315.1 78.9,316.2 79.2,316.6 79.6,316.9 80.0,317.6 80.5,317.7 81.1,318.4 81.6,318.5 82.2,318.4 82.7,319.2 83.3,318.7 83.8,319.4 84.4,319.6 84.9,319.7 85.5,319.8 86.0,320.8 86.6,320.2 87.2,320.9 87.8,321.4 88.4,320.9 89.0,321.1 89.5,321.7 90.1,321.8 90.7,322.1 91.3,322.4 91.9,322.0 92.5,322.3 93.1,322.4 93.8,322.2 94.4,323.0 95.0,323.0 95.6,323.0 96.2,322.4 96.9,323.3 97.5,323.2 98.1,323.1 98.8,323.4 99.4,323.2 100.0,323.0 100.6,323.0 101.2,323.2 101.9,323.1 102.5,323.4 103.1,323.8 103.8,323.8 104.4,324.0 105.0,324.0 105.6,323.6 106.2,323.9 106.9,323.8 107.5,324.2 108.1,324.0 108.8,323.8 109.4,324.2 110.0,324.5 110.6,323.9 111.2,324.5 111.9,323.7 112.5,324.0 113.1,324.0 113.8,324.5 114.4,324.7 115.0,324.6 115.6,324.2 116.2,324.8 116.9,324.3 117.5,324.3 118.1,324.8 118.8,324.6 119.4,324.6 120.0,324.5 120.6,324.8 121.2,324.3 121.9,324.6 122.5,324.5 123.1,324.6 123.8,324.2 124.4,324.4 125.0,324.3 125.6,324.0 126.2,323.9 126.9,324.2 127.5,323.7 128.1,324.4 128.8,323.7 129.4,323.6 130.0,323.6 130.6,324.3 131.2,323.7 131.9,323.5 132.5,323.3 133.1,323.2 133.8,323.7 134.4,323.6 135.0,323.6 135.6,323.5 136.2,322.9 136.9,323.3 137.5,323.0 138.1,323.3 138.8,323.2 139.4,323.2 140.0,322.4 140.6,323.1 141.2,323.0 141.9,323.0 142.5,322.1 143.1,322.2 143.7,322.0 144.3,321.8 144.9,322.5 145.5,322.4 146.1,322.1 146.7,322.2 147.3,322.0 147.9,321.6 148.5,321.3 149.0,321.2 149.6,321.8 150.2,321.2 150.8,321.2 151.4,321.2 152.0,320.8 152.6,320.9 153.2,320.8 153.8,321.2 154.4,320.8 155.0,320.6 155.6,321.2 156.2,320.8 156.9,321.1 157.5,320.8 158.1,320.3 158.8,320.6 159.4,320.6 160.0,320.9 160.6,320.5 161.2,320.8 161.9,320.6 162.5,320.3 163.1,320.9 163.8,320.2 164.4,320.8 165.0,320.2 165.6,320.1 166.2,320.2 166.9,320.7 167.5,320.9 168.1,320.1 168.8,320.5 169.4,320.5 170.0,320.8 170.6,320.2 171.2,320.5 171.9,320.4 172.5,320.8 173.1,320.3 173.8,320.9 174.4,320.3 175.0,320.2 175.6,320.7 176.2,320.5 176.9,320.1 177.5,320.6" fill="none" stroke="#4a8030" stroke-width="1.2" stroke-linejoin="round"/>
<polyline points="68.5,328.5 70.2,326.0 71.4,310.6 72.2,322.0" fill="none" stroke="#4a6a50" stroke-width="1.3" stroke-linejoin="round"/>
<polyline points="69.6,328.8 71.8,329.2" fill="none" stroke="#1a2a90" stroke-width="2.4" stroke-linejoin="round"/>
<polyline points="215.8,327.2 216.3,327.2 216.7,327.2 217.2,327.2 217.6,327.2 218.1,327.2 218.5,327.2 219.0,327.2 219.4,327.2 219.9,327.2 220.3,327.2 220.8,327.2 221.2,326.3 221.7,326.5 222.1,328.4 222.6,327.2 223.0,326.8 223.5,328.4 224.0,326.5 224.5,327.2 225.0,327.5 225.5,328.3 225.8,328.7 226.2,328.8 226.5,328.3 226.8,328.7 226.9,328.6 226.9,331.1 227.0,331.0 227.1,331.7 227.1,330.4 227.2,331.7 227.3,333.2 227.3,333.0 227.4,332.1 227.5,333.6 227.5,335.3 227.6,333.8 227.7,334.1 227.7,334.9 227.8,336.5 227.9,337.4 227.9,335.8 228.0,336.2 228.1,336.9 228.1,337.6 228.2,338.7 228.3,338.0 228.4,339.0 228.5,339.0 228.5,341.8 228.6,341.6 228.7,340.1 228.8,343.2 228.9,341.0 229.0,342.3 229.1,344.6 229.2,344.5 229.2,344.7 229.3,344.3 229.4,344.0 229.5,345.8 229.6,344.7 229.6,345.4 229.7,346.4 229.8,345.8 229.8,347.3 229.9,349.0 230.0,349.1 230.0,349.0 230.1,349.8 230.2,349.8 230.2,349.2 230.3,351.1 230.4,350.9 230.4,352.4 230.5,353.3 230.6,352.3 230.6,353.2 230.7,354.2 230.8,353.7 230.8,353.5 230.9,355.4 231.0,356.4 231.0,356.5 231.1,356.7 231.2,357.6 231.2,357.6 231.3,357.9 231.4,357.8 231.4,357.8 231.5,359.2 231.6,358.0 231.7,359.5 231.8,361.0 232.0,361.2 232.1,361.4 232.2,360.8 232.3,361.7 232.4,362.3 232.5,363.2 232.6,363.0 232.7,364.3 232.9,365.5 233.0,363.7 233.1,365.6 233.2,366.4 233.3,365.7 233.4,366.4 233.5,368.3 233.7,366.0 233.8,367.9 233.9,367.2 234.0,369.5 234.1,370.5 234.2,369.7 234.3,368.9 234.4,370.7 234.6,371.1 234.7,372.1 234.8,371.9 234.9,372.7 235.1,373.7 235.3,373.2 235.4,373.3 235.6,375.3 235.8,373.6 236.0,375.4 236.2,375.0 236.3,376.5 236.5,375.0 236.7,378.0 236.9,376.6 237.0,376.1 237.2,377.2 237.4,378.0 237.6,377.2 237.8,378.9 237.9,379.3 238.1,380.6 238.3,380.0 238.5,380.1 238.8,380.3 239.0,382.3 239.2,383.3 239.5,382.4 239.7,381.9 239.9,384.0 240.2,383.2 240.4,383.0 240.7,383.1 240.9,385.5 241.1,386.0 241.4,385.8 241.6,385.7 241.9,386.3 242.2,385.6 242.5,388.2 242.8,386.7 243.1,387.9 243.4,388.8 243.7,389.1 244.0,388.4 244.3,388.2 244.6,389.3 245.0,388.4 245.3,390.8 245.6,389.7 245.9,391.5 246.2,390.1 246.5,390.8 246.8,390.8 247.1,391.6 247.4,391.2 247.7,391.0 248.1,393.4 248.5,392.3 248.9,392.4 249.3,392.8 249.7,393.6 250.1,393.6 250.4,394.5 250.8,394.8 251.2,394.1 251.6,396.0 252.0,396.0 252.4,393.9 252.8,396.4 253.2,396.9 253.6,396.7 254.0,395.0 254.4,397.3 254.8,396.9 255.1,395.3 255.5,395.5 255.9,398.6 256.3,397.9 256.7,396.9 257.1,396.7 257.6,396.9 258.0,397.3 258.5,399.0 258.9,397.8 259.4,397.3 259.8,399.7 260.2,399.4 260.7,397.6 261.2,399.9 261.6,399.1 262.1,399.7 262.5,399.5 263.0,400.3 263.4,400.0 263.9,400.3 264.3,398.4 264.8,400.0 265.2,399.6 265.7,400.3 266.1,399.5 266.6,400.9 267.0,400.0 267.5,399.3 267.9,399.3 268.4,399.1 268.8,400.2 269.2,399.0 269.7,400.3 270.2,399.4 270.6,400.6 271.0,400.7 271.5,400.9 271.9,401.9 272.4,399.4 272.8,402.0 273.3,400.9 273.7,401.3 274.2,401.6 274.6,402.2 275.1,400.9 275.5,401.1 276.0,402.8 276.4,400.2 276.9,401.9 277.3,402.0 277.8,400.3 278.2,402.1 278.7,402.3 279.1,403.2 279.6,401.4 280.0,403.4 280.5,402.1 280.9,402.0 281.4,403.3 281.8,400.8 282.3,402.9 282.7,402.6 283.2,401.8 283.6,403.4 284.1,402.0 284.5,402.3 285.0,402.5 285.5,403.3 285.9,401.6 286.4,402.4 286.8,402.4 287.3,402.8 287.7,403.6 288.2,402.1 288.6,403.7 289.1,402.5 289.5,402.8 290.0,402.2 290.5,402.9 290.9,404.4 291.4,403.4 291.8,403.9 292.3,402.6 292.7,402.6 293.2,402.5 293.6,403.4 294.1,403.6 294.5,404.1 295.0,401.9 295.5,404.0 295.9,404.5 296.4,403.5 296.8,402.0 297.3,402.8 297.7,401.9 298.2,402.5 298.6,404.7 299.1,403.7 299.5,403.9 300.0,404.3 300.5,404.7 300.9,403.8 301.4,403.8 301.8,403.9 302.3,404.1 302.7,403.8 303.2,404.1 303.6,402.7 304.1,404.0 304.5,403.4 305.0,404.4 305.5,402.4 305.9,402.6 306.4,402.2 306.8,404.4 307.3,404.9 307.7,404.1 308.2,403.3 308.6,404.6 309.1,404.5 309.5,403.9 310.0,403.0 310.4,403.1 310.9,403.4 311.4,403.1 311.8,403.4 312.2,404.0 312.7,404.9 313.1,402.2 313.6,403.8 314.1,402.1 314.5,402.4 314.9,404.4 315.4,403.7 315.8,404.7 316.3,403.3 316.8,402.0 317.2,403.1 317.6,403.7 318.1,404.7 318.6,404.8 319.0,403.2 319.4,403.0 319.9,402.1 320.3,403.7 320.8,402.4 321.2,402.2 321.7,401.8 322.1,401.7 322.6,403.7 323.1,402.0 323.5,404.5 323.9,401.9 324.4,404.2 324.8,402.0 325.3,401.6 325.8,403.7 326.2,402.2 326.6,403.7 327.1,402.0 327.5,401.6 328.0,403.8 328.4,403.6 328.9,404.0" fill="none" stroke="#1c1cd8" stroke-width="2.0" stroke-linejoin="round"/>
<polyline points="225.5,327.0 226.0,327.6 226.5,328.1 227.0,328.6 227.5,329.2 227.7,329.8 227.8,330.1 228.0,331.5 228.2,331.8 228.3,331.6 228.5,332.1 228.7,333.5 228.8,334.3 229.0,334.0 229.2,334.8 229.4,335.9 229.5,335.8 229.7,337.3 229.9,337.4 230.0,337.5 230.2,338.4 230.3,339.3 230.4,339.7 230.5,340.6 230.6,340.6 230.7,342.0 230.7,342.1 230.8,343.0 230.9,343.6 231.0,344.0 231.1,344.6 231.2,345.6 231.3,346.4 231.4,346.9 231.5,347.2 231.6,347.5 231.7,347.8 231.7,349.5 231.8,349.8 231.9,350.6 232.0,350.6 232.1,351.5 232.2,352.6 232.4,353.0 232.5,353.3 232.7,353.5 232.8,354.2 233.0,355.4 233.1,355.3 233.3,356.3 233.4,356.8 233.6,357.7 233.7,358.2 233.9,358.1 234.1,358.4 234.2,359.3 234.4,360.0 234.5,360.8 234.7,361.7 234.8,362.3 235.0,361.9 235.1,363.4 235.3,364.0 235.4,364.6 235.6,364.8 235.7,365.1 235.9,366.3 236.1,366.9 236.2,367.3 236.4,368.2 236.5,368.1 236.7,368.3 236.8,369.5 237.0,370.3 237.1,370.2 237.3,371.4 237.4,372.2 237.6,372.0 237.9,372.9 238.3,373.6 238.6,373.8 238.9,374.0 239.3,374.6 239.6,375.7 239.9,376.3 240.3,376.4 240.6,376.5 240.9,377.9 241.3,378.3 241.6,378.2 241.9,379.1 242.3,380.0 242.6,380.6 243.0,380.6 243.3,381.1 243.6,381.8 244.0,381.8 244.3,382.3 244.6,382.8 245.0,384.0 245.3,384.1 245.6,384.8 246.0,385.2 246.3,385.8 246.8,385.7 247.3,385.9 247.8,387.4 248.4,386.9 248.9,386.9 249.4,387.9 249.9,388.4 250.4,387.9 250.9,388.8 251.4,388.8 252.0,389.3 252.5,389.1 253.0,389.4 253.5,390.9 254.0,391.0 254.5,390.9 255.0,391.3 255.6,391.3 256.1,392.2 256.6,392.1 257.1,393.0 257.7,393.0 258.3,393.3 258.9,393.7 259.4,393.0 260.0,393.0 260.6,393.4 261.2,393.5 261.8,393.6 262.4,393.8 263.0,394.6 263.6,395.2 264.1,394.9 264.7,395.7 265.3,395.9 265.9,395.0 266.5,395.9 267.1,395.9 267.7,395.7 268.3,396.9 268.8,396.3 269.4,396.9 270.0,397.2 270.6,397.7 271.2,397.5 271.9,397.2 272.5,397.4 273.1,397.1 273.7,398.2 274.4,398.3 275.0,397.5 275.6,397.3 276.2,397.7 276.9,397.9 277.5,398.6 278.1,398.7 278.7,398.7 279.4,397.9 280.0,398.8 280.6,398.8 281.2,398.8 281.8,399.3 282.4,398.3 283.0,398.4 283.6,399.2 284.2,399.5 284.8,399.3 285.4,398.9 286.0,399.3 286.6,399.6 287.3,398.9 287.9,399.2 288.5,399.2 289.1,399.2 289.7,399.7 290.3,399.4 290.9,399.5 291.5,399.5 292.1,400.2 292.7,399.5 293.3,400.4 293.9,399.8 294.5,399.7 295.1,400.8 295.7,400.0 296.3,400.9 296.9,400.9 297.5,401.0 298.1,400.1 298.8,400.5 299.4,400.2 300.0,401.2 300.6,401.2 301.2,401.0 301.8,400.8 302.4,400.7 303.0,401.4 303.6,401.0 304.2,401.2 304.8,400.7 305.4,400.8 306.0,400.7 306.6,401.5 307.2,401.4 307.8,401.0 308.5,401.9 309.1,401.2 309.7,401.4 310.3,401.2 310.9,401.4 311.5,402.1 312.1,401.5 312.7,401.4 313.3,401.8 313.9,401.6 314.5,402.4 315.2,401.5 315.8,402.5 316.4,401.5 317.0,402.5 317.6,402.3 318.2,401.7 318.8,402.1 319.5,401.9 320.1,401.9 320.7,401.9 321.3,402.1 321.9,402.9 322.5,402.9 323.1,402.8 323.8,401.9 324.4,402.1 325.0,402.9 325.6,401.9 326.2,402.8 326.8,402.3 327.4,403.1 328.1,402.0 328.7,403.0 329.3,402.5 329.9,402.2 330.5,402.1 331.1,403.1 331.7,402.8 332.4,402.4 333.0,402.8 333.6,403.4 334.2,402.6" fill="none" stroke="#d02020" stroke-width="1.3" stroke-linejoin="round"/>
<polyline points="224.8,327.5 224.8,326.9 224.8,326.3 224.8,325.7 224.8,325.1 224.8,324.5 224.8,323.9 224.8,323.3 224.8,322.8 224.8,322.1 224.8,321.3 224.8,320.6 224.8,320.4 224.8,319.9 224.8,319.4 224.8,318.6 224.8,317.6 224.8,316.9 224.8,316.9 224.8,316.0 224.8,315.7 224.8,314.5 224.8,314.6 224.8,313.5 224.8,314.7 224.9,315.3 224.9,315.5 225.0,315.7 225.0,317.2 225.0,317.3 225.1,318.3 225.1,318.3 225.1,318.9 225.2,320.1 225.2,320.3 225.3,320.7 225.3,321.5 225.3,322.3 225.4,322.3 225.4,323.5 225.4,324.0 225.5,324.7 225.5,324.9 225.6,326.1 225.6,326.8 226.1,327.4 226.7,327.3 227.2,328.2 227.4,328.5 227.7,329.4 227.9,329.3 228.1,330.7 228.3,331.3 228.6,331.4 228.8,332.0 229.0,332.6 229.1,333.2 229.2,333.3 229.4,334.8 229.6,334.7 229.7,335.2 229.8,335.8 230.0,336.5 230.2,337.7 230.3,337.5 230.5,338.1 230.6,339.3 230.8,339.4 230.9,339.8 231.1,341.0 231.2,341.6 231.3,342.1 231.5,342.9 231.6,342.9 231.7,344.3 231.9,344.7 232.0,344.7 232.1,345.4 232.2,346.3 232.4,347.0 232.5,347.4 232.6,347.8 232.7,348.7 232.8,349.0 233.0,350.1 233.1,351.0 233.2,350.9 233.3,351.9 233.5,352.7 233.6,352.7 233.7,354.0 233.8,354.7 234.0,354.8 234.1,355.4 234.2,356.4 234.4,356.7 234.6,357.2 234.8,358.3 235.0,358.7 235.2,358.8 235.4,359.3 235.5,360.0 235.7,360.7 235.9,361.8 236.1,362.2 236.3,362.9 236.5,363.4 236.7,364.0 236.9,363.8 237.1,364.8 237.3,365.8 237.5,366.4 237.7,366.3 237.9,367.0 238.1,367.8 238.2,368.1 238.4,368.9 238.6,369.0 238.8,369.9 239.0,370.6 239.2,370.7 239.4,371.4 239.6,372.8 239.9,373.1 240.3,373.7 240.6,373.9 241.0,374.6 241.3,375.2 241.7,375.7 242.0,375.3 242.4,376.4 242.7,376.6 243.1,377.5 243.4,377.6 243.8,378.3 244.1,379.2 244.5,379.4 244.8,379.6 245.2,380.3 245.5,380.7 245.9,381.8 246.2,381.6 246.6,382.1 246.9,382.9 247.3,382.9 247.6,383.9 248.0,384.8 248.3,384.8 248.7,385.1 249.0,385.8 249.5,386.1 250.1,386.0 250.6,386.2 251.2,386.5 251.7,386.9 252.2,387.3 252.8,387.4 253.3,387.7 253.9,387.8 254.4,388.5 254.9,389.1 255.5,389.1 256.0,389.3 256.6,389.7 257.1,389.5 257.6,390.3 258.2,390.3 258.7,390.6 259.3,390.9 259.8,391.1 260.4,391.1 261.0,391.1 261.6,391.3 262.2,391.7 262.8,391.7 263.4,392.1 264.0,391.7 264.6,392.2 265.2,392.8 265.8,392.3 266.4,392.8 267.0,392.9 267.6,392.8 268.2,393.7 268.8,393.1 269.4,393.8 270.0,393.3 270.6,393.4 271.2,394.3 271.9,393.9 272.5,393.6 273.1,394.1 273.7,394.2 274.4,394.6 275.0,394.1 275.6,394.3 276.2,395.1 276.9,395.0 277.5,394.5 278.1,394.8 278.7,394.9 279.4,395.3 280.0,395.3 280.6,395.6 281.2,395.7 281.8,395.4 282.4,395.7 283.0,395.8 283.6,395.9 284.2,395.7 284.8,396.0 285.4,396.0 286.0,396.3 286.6,395.6 287.3,396.4 287.9,395.6 288.5,396.4 289.1,396.3 289.7,396.3 290.3,396.8 290.9,396.5 291.5,396.4 292.1,396.9 292.7,397.0 293.3,396.8 293.9,396.7 294.5,396.8 295.1,396.9 295.7,397.2 296.3,396.8 296.9,397.0 297.5,397.2 298.1,397.1 298.8,397.1 299.4,397.6 300.0,397.7 300.6,397.4 301.2,397.4 301.8,397.2 302.4,397.4 303.0,397.3 303.6,397.8 304.2,397.8 304.8,397.4 305.4,398.3 306.0,397.7 306.6,398.3 307.2,398.3 307.8,398.5 308.5,397.8 309.1,398.1 309.7,398.6 310.3,397.8 310.9,397.9 311.5,398.5 312.1,398.4 312.7,398.9 313.3,398.8 313.9,398.7 314.5,399.2 315.1,398.8 315.7,398.9 316.3,399.1 316.9,398.9 317.5,398.9 318.1,399.2 318.7,399.0 319.3,399.7 319.9,399.5 320.5,399.4 321.1,399.1 321.7,399.4 322.3,399.5 322.9,399.7 323.4,399.8 324.0,400.2 324.6,400.4 325.2,399.9 325.8,400.0 326.4,400.2 327.0,400.7 327.6,400.1 328.2,400.3 328.8,400.7 329.4,400.1 330.0,400.3 330.6,401.1 331.2,401.0 331.8,400.7 332.4,400.4 333.0,401.3 333.6,401.1 334.2,401.3" fill="none" stroke="#4a8030" stroke-width="1.3" stroke-linejoin="round"/>
<polyline points="225.2,327.0 225.6,326.8 226.1,326.5 226.2,326.1 226.3,325.6 226.3,325.2 226.4,324.7 226.5,324.3 226.6,322.9 226.6,323.8 226.7,323.2 226.8,322.1 226.9,323.4 227.0,322.0 227.0,319.9 227.1,320.5 227.2,321.1 227.3,319.3 227.3,319.9 227.4,317.6 227.5,318.0 227.8,319.1 228.1,318.0 228.4,317.8 228.6,316.1 228.9,316.6 229.2,316.3 229.5,315.1 230.0,316.1 230.5,315.7 231.0,316.9 231.4,315.6 231.9,315.1 232.4,314.1 232.9,314.1 233.4,315.9 233.8,314.2 234.3,314.3 234.8,314.6 235.3,315.7 235.7,316.6 236.2,316.1 236.4,317.1 236.7,315.5 236.9,315.8 237.1,318.4 237.4,317.6 237.6,319.1 237.7,318.5 237.8,318.5 237.9,319.2 238.0,319.2 238.1,321.9 238.1,321.4 238.2,321.2 238.3,322.0 238.4,322.2 238.5,321.8 238.6,324.5 238.7,324.1 238.8,325.6 238.9,324.6 238.9,325.6 239.0,325.0 239.1,324.9 239.2,327.8 239.3,328.0 239.4,327.0 239.5,329.1 239.6,329.3 239.7,328.3 239.8,329.6 239.9,331.0 239.9,330.2 240.0,331.9 240.1,330.4 240.2,331.2 240.3,332.6 240.4,331.7 240.4,332.4 240.5,334.4 240.6,333.7 240.6,335.1 240.7,334.0 240.8,334.2 240.8,335.2 240.9,335.1 241.0,337.8 241.0,336.3 241.1,337.5 241.2,336.7 241.2,338.3 241.3,338.4 241.4,338.9 241.4,338.4 241.5,339.0 241.6,341.4 241.6,340.5 241.7,340.7 241.8,341.0 241.8,341.7 241.9,342.0 242.0,341.9 242.0,344.1 242.1,343.6 242.2,343.5 242.2,345.5 242.3,344.3 242.4,345.2 242.5,347.2 242.6,345.7 242.8,347.0 242.9,348.6 243.0,348.9 243.1,347.5 243.2,348.5 243.3,350.0 243.4,349.5 243.5,351.5 243.7,349.9 243.8,352.4 243.9,351.6 244.0,351.3 244.1,352.3 244.2,351.9 244.3,353.9 244.4,353.1 244.6,355.4 244.7,354.9 244.8,354.7 244.9,354.8 245.0,356.3 245.2,355.6 245.3,357.9 245.5,356.2 245.7,357.7 245.9,358.2 246.0,357.9 246.2,359.7 246.4,359.0 246.6,360.2 246.7,360.4 246.9,360.1 247.1,360.7 247.3,360.3 247.4,360.9 247.6,363.2 247.8,362.2 248.0,363.6 248.1,362.4 248.3,364.1 248.5,364.0 248.7,364.8 248.8,364.6 249.0,364.4 249.2,365.5 249.5,365.6 249.7,365.7 249.9,367.8 250.2,367.0 250.4,367.7 250.6,369.5 250.9,369.5 251.1,370.2 251.4,370.6 251.6,368.9 251.8,369.7 252.1,369.4 252.3,371.6 252.5,372.0 252.8,371.5 253.0,372.1 253.3,373.1 253.6,373.6 253.9,372.7 254.2,374.7 254.5,373.6 254.8,374.8 255.1,373.9 255.4,374.0 255.7,376.6 256.0,376.5 256.3,376.8 256.5,375.2 256.8,375.6 257.1,376.3 257.4,376.7 257.7,377.4 258.0,378.0 258.3,377.3 258.6,378.5 258.9,379.7 259.2,378.8 259.5,381.0 259.8,380.6 260.2,381.3 260.5,380.3 260.9,381.1 261.2,382.1 261.6,381.4 261.9,380.7 262.3,383.3 262.6,383.4 263.0,382.4 263.3,382.0 263.7,384.5 264.0,384.1 264.4,382.8 264.7,383.7 265.1,383.6 265.4,385.8 265.8,384.4 266.1,386.7 266.5,386.5 266.9,384.8 267.4,386.7 267.8,386.0 268.2,387.1 268.7,387.5 269.1,386.1 269.5,385.8 270.0,388.3 270.4,387.0 270.8,388.6 271.3,388.1 271.7,388.4 272.1,388.8 272.5,388.4 273.0,388.1 273.4,387.1 273.8,389.1 274.3,388.5 274.7,388.9 275.1,390.2 275.6,388.1 276.0,390.1 276.4,388.2 276.9,390.2 277.3,390.7 277.7,389.2 278.2,390.2 278.6,391.5 279.1,390.6 279.5,390.5 280.0,389.8 280.4,389.4 280.9,390.3 281.3,390.6 281.8,390.1 282.2,390.5 282.7,390.2 283.1,391.9 283.6,391.9 284.0,390.8 284.5,390.9 284.9,391.8 285.4,391.7 285.8,393.2 286.2,391.7 286.7,391.7 287.1,393.4 287.6,391.5 288.0,392.8 288.5,392.3 288.9,393.7 289.4,393.1 289.8,393.8 290.3,392.3 290.7,393.8 291.2,393.7 291.6,393.5 292.1,394.4 292.5,394.7 292.9,392.8 293.4,393.5 293.8,393.8 294.3,393.5 294.7,393.2 295.2,393.9 295.6,393.8 296.1,395.3 296.5,394.7 297.0,393.9 297.4,394.6 297.9,395.2 298.3,395.0 298.8,394.6 299.2,394.4 299.6,394.3 300.1,397.1 300.5,396.5 301.0,394.7 301.4,396.5 301.9,397.3 302.3,396.2 302.8,395.0 303.2,396.1 303.7,396.1 304.1,395.4 304.6,396.5 305.0,395.1 305.5,397.7 305.9,397.0 306.4,397.0 306.8,397.9 307.3,397.2 307.7,396.1 308.2,396.2 308.6,395.9 309.0,395.7 309.5,397.8 309.9,398.1 310.4,396.6 310.8,396.4 311.3,397.7 311.7,398.4 312.2,398.7 312.6,396.6 313.1,398.4 313.5,398.6 314.0,398.4 314.4,397.3 314.9,397.0 315.3,398.8 315.8,397.5 316.2,397.7 316.7,398.3 317.1,397.8 317.6,399.2 318.0,397.6 318.4,397.1 318.9,398.6 319.4,398.8 319.8,399.3 320.2,399.1 320.7,399.7 321.1,399.8 321.6,398.6 322.1,398.6 322.5,397.7 322.9,398.1 323.4,399.0 323.9,397.6 324.3,399.3 324.8,397.9 325.2,398.7 325.6,400.2 326.1,397.8 326.6,397.7 327.0,398.9 327.4,398.2 327.9,399.7 328.3,397.7 328.8,400.1 329.2,400.2 329.7,400.0 330.1,399.1 330.6,398.7 331.1,399.8 331.5,399.4 331.9,399.2 332.4,399.0 332.8,399.3 333.3,400.0 333.8,400.5 334.2,400.7" fill="none" stroke="#111" stroke-width="1.6" stroke-linejoin="round"/>
<polyline points="417.6,353.3 418.2,353.2 418.8,352.8 419.3,353.0 419.9,352.5 420.5,352.6 421.0,352.2 421.6,351.7 422.2,351.6 422.8,351.3 423.3,351.5 423.9,351.1 424.5,350.6 425.0,350.4 425.6,350.3 426.2,350.2 426.7,350.1 427.3,349.7 427.9,349.6 428.5,349.3 429.1,349.5 429.8,349.2 430.4,348.9 431.0,349.0 431.6,349.2 432.2,348.5 432.8,348.5 433.4,348.7 434.1,348.3 434.7,348.2 435.3,348.2 435.9,347.9 436.5,348.0 437.1,347.9 437.7,348.0 438.3,347.9 439.0,347.2 439.6,347.4 440.2,347.4 440.8,347.3 441.4,347.2 442.0,347.0 442.6,346.9 443.2,346.7 443.8,346.5 444.5,346.8 445.1,346.7 445.7,346.7 446.3,346.4 446.9,346.1 447.5,346.3 448.1,346.2 448.7,346.0 449.3,346.0 449.9,345.7 450.5,345.7 451.2,345.6 451.8,345.3 452.4,345.4 453.0,345.3 453.6,345.6 454.2,345.2 454.8,345.1 455.4,344.9 456.0,344.9 456.7,344.9 457.3,344.7 457.9,344.5 458.5,345.0 459.1,344.7 459.7,344.6 460.3,344.7 460.9,344.4 461.6,344.3 462.2,344.2 462.8,344.3 463.4,344.2 464.0,344.4 464.6,344.2 465.2,344.4 465.9,344.0 466.5,344.3 467.1,344.0 467.7,343.6 468.3,343.7 468.9,343.9 469.5,344.1 470.2,343.7 470.8,343.9 471.4,343.6 472.0,343.9 472.6,343.3 473.2,343.6 473.8,343.8 474.4,343.4 475.1,343.3 475.7,343.1 476.3,343.2 476.9,343.2 477.5,343.4 478.1,343.1 478.7,343.2 479.4,343.0 480.0,343.2 480.6,343.4 481.2,343.2 481.8,342.9 482.4,343.2 483.1,343.3 483.7,343.1 484.3,342.7 484.9,343.1 485.5,343.2 486.1,342.8 486.8,342.7 487.4,342.7 488.0,342.8 488.6,343.0 489.2,342.9 489.8,343.0 490.4,342.6 491.1,342.6 491.7,342.8 492.3,342.7 492.9,342.6 493.5,342.7 494.1,342.5 494.8,342.3 495.4,342.5 496.0,342.2" fill="none" stroke="#4a8030" stroke-width="1.3" stroke-linejoin="round"/>
<polyline points="417.7,353.7 418.3,353.5 418.9,352.9 419.5,353.1 420.1,352.8 420.7,352.7 421.3,352.4 421.9,352.2 422.5,352.7 423.1,352.1 423.7,352.3 424.3,351.7 424.9,351.8 425.5,351.4 426.1,351.4 426.7,351.2 427.3,351.3 427.9,351.0 428.5,351.3 429.1,351.1 429.8,350.9 430.4,351.0 431.0,351.0 431.6,351.3 432.2,350.9 432.8,350.8 433.4,351.2 434.1,351.1 434.7,351.0 435.3,350.7 435.9,350.6 436.5,350.6 437.1,350.5 437.7,350.5 438.3,350.7 439.0,350.6 439.6,350.7 440.2,350.5 440.8,350.3 441.4,350.7 442.0,350.6 442.6,350.5 443.2,350.4 443.8,350.5 444.5,350.6 445.1,350.5 445.7,350.3 446.3,350.1 446.9,350.0 447.5,350.0 448.1,350.3 448.7,349.9 449.3,349.8 449.9,349.8 450.5,349.6 451.2,350.0 451.8,349.4 452.4,349.7 453.0,349.9 453.6,349.4 454.2,349.6 454.8,349.4 455.4,349.3 456.0,349.2 456.7,349.1 457.3,349.5 457.9,349.4 458.5,349.4 459.1,348.9 459.7,349.2 460.3,348.9 460.9,349.1 461.6,349.0 462.2,348.8 462.8,349.1 463.4,348.5 464.0,348.9 464.6,348.9 465.2,348.7 465.9,348.7 466.5,348.9 467.1,348.4 467.7,348.6 468.3,348.6 468.9,348.4 469.5,348.6 470.2,348.4 470.8,348.4 471.4,348.5 472.0,348.5 472.6,348.2 473.2,348.4 473.8,348.3 474.4,348.1 475.1,348.3 475.7,348.1 476.3,348.5 476.9,348.2 477.5,348.3 478.1,348.2 478.7,348.2 479.4,348.0 480.0,347.9 480.6,348.4 481.2,348.1 481.8,348.1 482.4,348.1 483.1,348.3 483.7,347.9 484.3,347.9 484.9,348.2 485.5,348.0 486.1,348.1 486.8,348.2 487.4,348.3 488.0,348.2 488.6,347.7 489.2,347.9 489.8,348.2 490.4,348.2 491.1,347.7 491.7,347.8 492.3,347.8 492.9,347.7 493.5,347.8 494.1,348.1 494.8,347.9 495.4,347.9 496.0,347.7" fill="none" stroke="#d02020" stroke-width="1.3" stroke-linejoin="round"/>
<polyline points="417.6,353.4 418.2,353.4 418.8,352.9 419.3,353.0 419.9,352.3 420.5,352.3 421.0,352.2 421.6,351.6 422.2,351.9 422.8,351.2 423.3,351.3 423.9,350.9 424.5,351.1 425.0,350.7 425.6,350.6 426.2,350.2 426.7,350.1 427.3,349.9 427.9,349.6 428.5,349.4 429.1,349.6 429.8,349.1 430.4,349.4 431.0,348.9 431.6,348.7 432.2,348.6 432.8,348.9 433.4,348.8 434.1,348.4 434.7,348.4 435.3,348.1 435.9,348.3 436.5,348.1 437.1,347.6 437.7,347.4 438.3,347.7 439.0,347.2 439.6,347.5 440.2,347.1 440.8,346.9 441.4,347.1 442.0,346.8 442.6,346.9 443.2,346.5 443.8,346.9 444.5,346.5 445.1,346.7 445.7,346.2 446.3,346.5 446.9,346.5 447.5,346.1 448.1,345.8 448.7,345.9 449.3,346.0 449.9,345.6 450.5,345.7 451.2,345.4 451.8,345.5 452.4,345.6 453.0,345.3 453.6,345.4 454.2,345.0 454.8,345.3 455.4,344.9 456.0,345.3 456.7,345.3 457.3,345.2 457.9,344.9 458.5,344.7 459.1,344.6 459.7,344.8 460.3,344.6 460.9,344.8 461.6,344.2 462.2,344.4 462.8,344.6 463.4,344.4 464.0,344.3 464.6,343.9 465.2,343.9 465.9,343.9 466.5,344.3 467.1,344.2 467.7,343.7 468.3,344.1 468.9,343.5 469.5,343.9 470.2,344.0 470.8,343.6 471.4,343.9 472.0,343.7 472.6,343.3 473.2,343.5 473.8,343.5 474.4,343.3 475.1,343.6 475.7,343.2 476.3,343.6 476.9,343.2 477.5,343.1 478.1,343.3 478.7,343.0 479.4,343.2 480.0,343.3 480.6,343.2 481.2,343.1 481.8,342.8 482.4,343.1 483.1,342.8 483.7,343.1 484.3,342.8 484.9,343.0 485.5,342.8 486.1,342.8 486.8,343.0 487.4,342.6 488.0,342.6 488.6,343.1 489.2,342.7 489.8,343.0 490.4,342.9 491.1,342.7 491.7,342.5 492.3,342.4 492.9,342.9 493.5,342.4 494.1,342.6 494.8,342.6 495.4,342.3 496.0,342.5" fill="none" stroke="#111" stroke-width="1.4" stroke-linejoin="round"/>
<polyline points="417.6,353.8 418.2,353.7 418.8,353.0 419.3,353.2 419.9,352.6 420.5,352.8 421.0,352.2 421.6,352.1 422.2,352.3 422.8,351.7 423.3,351.4 423.9,351.6 424.5,351.2 425.0,351.2 425.6,350.7 426.2,350.5 426.7,350.6 427.3,350.1 427.9,350.3 428.5,349.7 429.1,349.9 429.8,349.4 430.4,349.5 431.0,349.1 431.6,349.0 432.2,349.4 432.8,349.0 433.4,349.1 434.1,348.6 434.7,348.5 435.3,348.3 435.9,348.4 436.5,348.5 437.1,348.1 437.7,347.9 438.3,348.1 439.0,348.0 439.6,347.7 440.2,347.3 440.8,347.5 441.4,347.3 442.0,347.5 442.6,347.1 443.2,347.2 443.8,347.0 444.5,346.8 445.1,346.8 445.7,346.8 446.3,346.9 446.9,346.5 447.5,346.4 448.1,346.6 448.7,346.0 449.3,346.4 449.9,346.2 450.5,346.1 451.2,345.9 451.8,346.0 452.4,346.0 453.0,345.8 453.6,345.7 454.2,345.2 454.8,345.3 455.4,345.2 456.0,345.6 456.7,345.5 457.3,345.0 457.9,345.2 458.5,345.1 459.1,344.8 459.7,344.9 460.3,345.1 460.9,344.9 461.6,344.7 462.2,344.9 462.8,344.5 463.4,344.6 464.0,344.5 464.6,344.8 465.2,344.5 465.9,344.6 466.5,344.4 467.1,344.2 467.7,344.5 468.3,344.3 468.9,344.2 469.5,344.0 470.2,343.9 470.8,344.1 471.4,344.2 472.0,344.1 472.6,343.8 473.2,343.7 473.8,343.8 474.4,344.0 475.1,343.6 475.7,343.9 476.3,343.5 476.9,343.5 477.5,343.4 478.1,343.5 478.7,343.5 479.4,343.8 480.0,343.8 480.6,343.2 481.2,343.3 481.8,343.6 482.4,343.2 483.1,343.2 483.7,343.3 484.3,343.0 484.9,343.1 485.5,343.2 486.1,343.1 486.8,343.5 487.4,343.0 488.0,342.9 488.6,343.3 489.2,343.0 489.8,343.3 490.4,343.1 491.1,343.2 491.7,342.9 492.3,342.7 492.9,343.1 493.5,342.9 494.1,342.9 494.8,343.0 495.4,343.0 496.0,342.7" fill="none" stroke="#1c1cd8" stroke-width="1.3" stroke-linejoin="round"/>
<polyline points="370.2,327.1 370.8,326.9 371.5,327.0 372.1,327.1 372.8,326.9 373.4,327.0 374.1,326.7 374.8,327.3 375.4,327.0 376.1,327.3 376.7,326.7 376.9,326.4 377.1,325.9 377.4,325.0 377.6,324.3 377.8,323.7 378.1,323.0 378.3,322.8 378.5,321.8 378.6,321.5 378.8,320.7 378.9,320.1 379.0,319.5 379.1,318.8 379.3,318.2 379.4,317.6 379.7,318.0 379.9,318.9 380.2,319.2 380.5,320.1 380.6,320.8 380.8,321.4 380.9,321.7 381.1,322.6 381.2,323.3 381.4,323.6 381.6,324.1 381.7,324.8 381.8,325.7 382.0,325.8 382.1,326.3 382.3,327.2 382.4,327.9 382.6,328.6 382.8,328.9 382.9,329.9 383.0,330.0 383.2,331.0 383.3,331.2 383.5,331.7 383.6,332.4 383.8,332.9 383.9,333.8 384.1,334.4 384.2,334.8 384.4,335.9 384.5,336.1 384.7,336.6 384.8,337.2 385.0,338.1 385.1,338.9 385.3,339.0 385.4,339.5 385.6,340.6 385.7,340.8 385.9,341.9 386.0,342.2 386.2,342.9 386.3,343.3 386.5,344.2 386.6,344.6 386.8,345.1 386.9,346.0 387.1,346.1 387.4,347.0 387.6,347.2 387.9,348.1 388.1,348.5 388.3,349.3 388.6,349.4 388.8,350.3 389.1,350.7 389.3,351.6 389.6,352.1 389.8,352.5 390.0,352.8 390.3,353.4 390.5,354.0 390.8,354.6 391.0,355.0 391.4,355.5 391.9,356.3 392.3,356.6 392.8,356.9 393.2,357.7 393.6,357.7 394.1,358.4 394.5,358.6 395.0,359.5 395.4,359.9 395.9,360.0 396.3,360.8 396.9,361.0 397.5,360.9 398.1,361.1 398.7,361.4 399.3,361.9 399.9,361.7 400.5,362.2 401.1,362.3 401.7,362.5 402.3,362.3 402.8,362.3 403.4,361.7 404.0,361.8 404.5,361.3 405.1,361.3 405.7,361.1 406.2,360.5 406.8,360.7 407.4,360.5 407.9,359.9 408.5,359.5 409.0,359.2 409.5,359.3 410.0,358.4 410.5,358.5 411.0,357.7 411.5,357.7 412.0,356.9 412.5,356.6 413.0,356.5 413.5,355.8 414.0,355.6 414.5,355.6 415.0,355.1 415.5,354.8 416.0,354.5 416.5,353.5 417.1,353.5 417.7,353.7 418.3,353.5" fill="none" stroke="#d02020" stroke-width="1.3" stroke-linejoin="round"/>
<polyline points="370.2,327.1 370.8,327.3 371.5,327.3 372.1,327.2 372.8,327.1 373.4,327.2 374.1,327.1 374.8,327.1 375.4,327.1 376.1,327.5 376.7,327.3 376.9,326.9 377.1,325.8 377.4,325.7 377.6,324.8 377.8,324.3 378.1,323.6 378.3,323.0 378.5,322.1 378.6,321.8 378.8,320.8 378.9,320.2 379.0,319.4 379.1,319.0 379.3,318.5 379.4,317.7 379.7,318.7 379.9,318.8 380.2,319.7 380.5,320.1 380.6,321.0 380.8,321.7 380.9,322.2 381.1,322.4 381.2,323.1 381.4,324.0 381.6,324.8 381.7,324.8 381.8,325.8 382.0,326.4 382.1,327.1 382.3,327.4 382.4,328.3 382.6,328.7 382.8,329.6 382.9,329.6 383.0,330.8 383.2,331.0 383.3,331.6 383.5,332.1 383.6,332.7 383.8,333.6 383.9,334.2 384.1,334.5 384.2,335.2 384.4,335.7 384.5,336.3 384.7,336.9 384.8,337.6 385.0,338.6 385.1,339.2 385.3,339.7 385.4,340.1 385.6,340.7 385.7,341.5 385.9,342.1 386.0,342.7 386.2,343.2 386.3,343.5 386.5,344.4 386.6,345.1 386.8,345.7 386.9,345.9 387.1,346.8 387.4,347.1 387.6,347.6 387.9,348.6 388.1,349.0 388.3,349.6 388.6,349.8 388.8,350.7 389.1,351.3 389.3,351.9 389.6,352.3 389.8,352.9 390.0,353.5 390.3,353.9 390.5,354.4 390.8,355.1 391.0,355.7 391.4,356.2 391.9,356.3 392.3,357.1 392.8,357.3 393.2,358.0 393.6,358.0 394.1,358.9 394.5,359.3 395.0,359.4 395.4,360.2 395.9,360.3 396.3,360.7 396.9,361.1 397.5,361.2 398.1,361.5 398.7,362.0 399.3,362.1 399.9,362.3 400.5,362.3 401.1,362.8 401.7,363.0 402.3,362.7 402.8,362.6 403.4,362.3 404.0,361.8 404.5,361.4 405.1,361.5 405.7,361.4 406.2,360.9 406.8,360.8 407.4,360.8 407.9,360.5 408.5,359.8 409.0,359.7 409.5,359.1 410.0,358.7 410.5,358.8 411.0,358.2 411.5,357.9 412.0,357.4 412.5,357.0 413.0,356.6 413.5,356.3 414.0,356.2 414.5,355.7 415.0,355.1 415.5,354.6 416.0,354.3 416.5,354.2 417.1,353.9 417.6,353.8 418.2,353.7" fill="none" stroke="#1c1cd8" stroke-width="1.3" stroke-linejoin="round"/>
<polyline points="370.2,326.9 370.8,327.3 371.5,327.1 372.1,327.0 372.8,327.0 373.4,327.2 374.1,327.2 374.8,326.8 375.4,327.1 376.1,326.9 376.7,327.0 376.9,326.2 377.1,325.7 377.4,325.0 377.6,324.4 377.8,323.6 378.1,323.1 378.3,322.7 378.5,321.7 378.6,321.2 378.8,320.8 378.9,319.9 379.0,319.3 379.1,318.6 379.3,318.3 379.4,317.3 379.7,318.2 379.9,319.0 380.2,319.2 380.5,320.0 380.6,320.8 380.8,321.3 380.9,321.7 381.1,322.1 381.2,323.0 381.4,323.5 381.6,324.3 381.7,324.7 381.8,325.3 382.0,326.1 382.1,326.8 382.3,327.1 382.4,327.7 382.6,328.4 382.8,329.3 382.9,329.4 383.0,330.5 383.2,330.9 383.3,331.3 383.5,332.1 383.6,332.5 383.8,332.9 383.9,334.0 384.1,334.3 384.2,335.0 384.4,335.6 384.5,336.4 384.7,337.0 384.8,337.1 385.0,338.1 385.1,338.6 385.3,339.2 385.4,340.0 385.6,340.3 385.7,341.0 385.9,341.8 386.0,342.2 386.2,342.8 386.3,343.4 386.5,344.2 386.6,344.7 386.8,345.3 386.9,345.7 387.1,346.1 387.4,347.0 387.6,347.5 387.9,348.2 388.1,348.7 388.3,348.9 388.6,349.5 388.8,350.0 389.1,351.0 389.3,351.1 389.6,351.6 389.8,352.6 390.0,353.0 390.3,353.3 390.5,354.2 390.8,354.8 391.0,355.2 391.4,355.4 391.9,356.2 392.3,356.5 392.8,357.1 393.2,357.7 393.6,358.1 394.1,358.6 394.5,358.6 395.0,359.2 395.4,359.7 395.9,359.9 396.3,360.9 396.9,360.7 397.5,360.9 398.1,361.1 398.7,361.3 399.3,361.9 399.9,361.9 400.5,362.1 401.1,362.2 401.7,362.2 402.3,362.2 402.8,362.3 403.4,362.0 404.0,361.8 404.5,361.2 405.1,361.0 405.7,360.7 406.2,360.7 406.8,360.4 407.4,360.2 407.9,360.0 408.5,359.9 409.0,359.3 409.5,359.2 410.0,358.5 410.5,358.6 411.0,358.0 411.5,357.3 412.0,357.1 412.5,356.8 413.0,356.4 413.5,356.1 414.0,355.6 414.5,355.2 415.0,355.1 415.5,354.4 416.0,354.3 416.5,354.0 417.1,353.6 417.6,353.4 418.2,353.4" fill="none" stroke="#111" stroke-width="1.4" stroke-linejoin="round"/>
<polyline points="370.2,326.8 370.8,326.9 371.5,327.0 372.1,327.0 372.8,326.9 373.4,326.8 374.1,326.8 374.8,326.9 375.4,327.0 376.1,327.3 376.7,327.2 376.9,326.6 377.1,326.0 377.4,325.4 377.6,324.6 377.8,324.1 378.1,323.0 378.3,322.7 378.5,322.1 378.6,321.2 378.8,320.8 378.9,320.3 379.0,319.4 379.1,318.9 379.3,318.0 379.4,317.4 379.7,318.4 379.9,318.5 380.2,319.2 380.5,320.1 380.6,320.6 380.8,321.0 380.9,321.9 381.1,322.3 381.2,323.0 381.4,323.5 381.6,324.2 381.7,324.8 381.8,325.3 382.0,325.8 382.1,326.4 382.3,327.4 382.4,327.8 382.6,328.2 382.8,329.2 382.9,329.5 383.0,330.0 383.2,330.8 383.3,331.3 383.5,332.0 383.6,332.6 383.8,333.0 383.9,333.8 384.1,334.2 384.2,335.0 384.4,335.7 384.5,335.9 384.7,336.7 384.8,337.1 385.0,338.0 385.1,338.8 385.3,339.2 385.4,339.9 385.6,340.6 385.7,340.8 385.9,341.9 386.0,342.3 386.2,342.6 386.3,343.6 386.5,343.9 386.6,344.4 386.8,345.5 386.9,345.8 387.1,346.5 387.4,346.7 387.6,347.6 387.9,347.7 388.1,348.4 388.3,349.0 388.6,349.4 388.8,350.3 389.1,350.6 389.3,351.2 389.6,352.0 389.8,352.4 390.0,353.2 390.3,353.6 390.5,354.3 390.8,354.7 391.0,355.5 391.4,355.9 391.9,355.9 392.3,356.7 392.8,356.9 393.2,357.6 393.6,358.0 394.1,358.5 394.5,358.6 395.0,359.2 395.4,359.8 395.9,360.4 396.3,360.7 396.9,360.5 397.5,361.1 398.1,361.0 398.7,361.5 399.3,361.8 399.9,361.6 400.5,362.3 401.1,362.4 401.7,362.4 402.3,362.1 402.8,362.0 403.4,362.0 404.0,361.6 404.5,361.1 405.1,360.9 405.7,360.7 406.2,360.9 406.8,360.3 407.4,360.3 407.9,359.9 408.5,359.9 409.0,359.4 409.5,358.8 410.0,358.9 410.5,358.3 411.0,358.0 411.5,357.7 412.0,357.4 412.5,356.5 413.0,356.3 413.5,355.8 414.0,355.7 414.5,355.5 415.0,355.1 415.5,354.3 416.0,354.0 416.5,354.0 417.1,353.7 417.6,353.3 418.2,353.2" fill="none" stroke="#5a7a28" stroke-width="1.3" stroke-linejoin="round"/>
<polyline points="370.2,327.0 376.7,327.0 378.5,322.0 379.4,317.5 380.5,320.0 382.9,329.6 386.9,345.8" fill="none" stroke="#9a7030" stroke-width="1.2" stroke-linejoin="round"/>
<text x="477.70" y="268.73" font-size="9.8" text-anchor="middle" font-family='"Liberation Serif", serif' font-weight="normal" fill="#111" stroke="#111" stroke-width="0.25">COMP</text>
<line x1="435.60" y1="280.00" x2="454.20" y2="280.00" stroke="#1c1cd8" stroke-width="1.4"/>
<text x="459.50" y="283.33" font-size="9.8" text-anchor="start" font-family='"Liberation Serif", serif' font-weight="normal" fill="#111" stroke="#111" stroke-width="0.25">0</text>
<line x1="435.60" y1="294.00" x2="454.20" y2="294.00" stroke="#d02020" stroke-width="1.4"/>
<text x="459.50" y="297.33" font-size="9.8" text-anchor="start" font-family='"Liberation Serif", serif' font-weight="normal" fill="#111" stroke="#111" stroke-width="0.25">100 ng/mL</text>
<line x1="435.60" y1="308.00" x2="454.20" y2="308.00" stroke="#111" stroke-width="1.4"/>
<text x="459.50" y="311.33" font-size="9.8" text-anchor="start" font-family='"Liberation Serif", serif' font-weight="normal" fill="#111" stroke="#111" stroke-width="0.25">200 ng/mL</text>
<line x1="435.60" y1="321.50" x2="454.20" y2="321.50" stroke="#4a8030" stroke-width="1.4"/>
<text x="459.50" y="324.83" font-size="9.8" text-anchor="start" font-family='"Liberation Serif", serif' font-weight="normal" fill="#111" stroke="#111" stroke-width="0.25">300 ng/mL</text>
<line x1="45.50" y1="482.80" x2="45.50" y2="571.00" stroke="#111" stroke-width="1.5"/>
<line x1="42.50" y1="483.50" x2="45.50" y2="483.50" stroke="#111" stroke-width="1.5"/>
<text x="40.20" y="486.80" font-size="9.7" text-anchor="end" font-family='"Liberation Serif", serif' font-weight="normal" fill="#111" stroke="#111" stroke-width="0.25">80</text>
<line x1="42.50" y1="505.30" x2="45.50" y2="505.30" stroke="#111" stroke-width="1.5"/>
<text x="40.20" y="508.60" font-size="9.7" text-anchor="end" font-family='"Liberation Serif", serif' font-weight="normal" fill="#111" stroke="#111" stroke-width="0.25">60</text>
<line x1="42.50" y1="527.20" x2="45.50" y2="527.20" stroke="#111" stroke-width="1.5"/>
<text x="40.20" y="530.50" font-size="9.7" text-anchor="end" font-family='"Liberation Serif", serif' font-weight="normal" fill="#111" stroke="#111" stroke-width="0.25">40</text>
<line x1="42.50" y1="548.70" x2="45.50" y2="548.70" stroke="#111" stroke-width="1.5"/>
<text x="40.20" y="552.00" font-size="9.7" text-anchor="end" font-family='"Liberation Serif", serif' font-weight="normal" fill="#111" stroke="#111" stroke-width="0.25">20</text>
<line x1="42.50" y1="570.30" x2="45.50" y2="570.30" stroke="#111" stroke-width="1.5"/>
<text x="40.20" y="573.60" font-size="9.7" text-anchor="end" font-family='"Liberation Serif", serif' font-weight="normal" fill="#111" stroke="#111" stroke-width="0.25">0</text>
<rect x="51.60" y="505.60" width="20.50" height="64.70" fill="#fff" stroke="#111" stroke-width="1.2"/>
<line x1="61.85" y1="505.00" x2="61.85" y2="497.00" stroke="#111" stroke-width="1.2"/>
<line x1="56.42" y1="497.00" x2="67.28" y2="497.00" stroke="#111" stroke-width="1.2"/>
<rect x="83.60" y="514.90" width="21.40" height="55.40" fill="#000" stroke="#111" stroke-width="1.2"/>
<line x1="94.30" y1="514.30" x2="94.30" y2="508.00" stroke="#111" stroke-width="1.2"/>
<line x1="88.65" y1="508.00" x2="99.95" y2="508.00" stroke="#111" stroke-width="1.2"/>
<rect x="116.60" y="532.60" width="21.30" height="37.70" fill="url(#dg)" stroke="#111" stroke-width="1.2"/>
<line x1="127.25" y1="532.00" x2="127.25" y2="526.50" stroke="#111" stroke-width="1.2"/>
<line x1="121.62" y1="526.50" x2="132.88" y2="526.50" stroke="#111" stroke-width="1.2"/>
<rect x="149.40" y="565.60" width="21.30" height="4.70" fill="url(#dg)" stroke="#111" stroke-width="1.2"/>
<line x1="160.05" y1="565.00" x2="160.05" y2="563.00" stroke="#111" stroke-width="1.2"/>
<line x1="154.43" y1="563.00" x2="165.68" y2="563.00" stroke="#111" stroke-width="1.2"/>
<line x1="45.50" y1="570.30" x2="174.80" y2="570.30" stroke="#111" stroke-width="1.5"/>
<text x="61.60" y="582.73" font-size="9.8" text-anchor="middle" font-family='"Liberation Serif", serif' font-weight="normal" fill="#111" stroke="#111" stroke-width="0.25">0</text>
<text x="93.50" y="582.73" font-size="9.8" text-anchor="middle" font-family='"Liberation Serif", serif' font-weight="normal" fill="#111" stroke="#111" stroke-width="0.25">100</text>
<text x="127.40" y="582.73" font-size="9.8" text-anchor="middle" font-family='"Liberation Serif", serif' font-weight="normal" fill="#111" stroke="#111" stroke-width="0.25">200</text>
<text x="159.00" y="582.73" font-size="9.8" text-anchor="middle" font-family='"Liberation Serif", serif' font-weight="normal" fill="#111" stroke="#111" stroke-width="0.25">300</text>
<text x="109.00" y="593.83" font-size="9.8" text-anchor="middle" font-family='"Liberation Serif", serif' font-weight="normal" fill="#111" stroke="#111" stroke-width="0.25">COMP (ng/mL)</text>
<text x="19.50" y="536.33" font-size="9.8" text-anchor="middle" font-family='"Liberation Serif", serif' font-weight="normal" fill="#111" stroke="#111" stroke-width="0.25" transform="rotate(-90 19.50 533.00)">Aggregation (%)</text>
<text x="111.00" y="448.83" font-size="9.8" text-anchor="middle" font-family='"Liberation Serif", serif' font-weight="normal" fill="#111" stroke="#111" stroke-width="0.25">Thrombin</text>
<polyline points="61.6,492.0 61.6,488.7 94.2,488.7 94.2,492.0" fill="none" stroke="#111" stroke-width="1.45" stroke-linejoin="round"/>
<text x="78.50" y="487.33" font-size="9.8" text-anchor="middle" font-family='"Liberation Serif", serif' font-weight="normal" fill="#111" stroke="#111" stroke-width="0.25">NS</text>
<polyline points="61.6,480.0 61.6,476.6 127.4,476.6 127.4,480.0" fill="none" stroke="#111" stroke-width="1.45" stroke-linejoin="round"/>
<path d="M93.50,473.55L93.50,465.85M90.17,471.62L96.83,467.77M90.17,467.77L96.83,471.62" stroke="#111" stroke-width="1.35" fill="none"/>
<polyline points="61.6,467.0 61.6,463.5 160.0,463.5 160.0,467.0" fill="none" stroke="#111" stroke-width="1.45" stroke-linejoin="round"/>
<path d="M110.80,460.35L110.80,452.65M107.47,458.43L114.13,454.57M107.47,454.57L114.13,458.43" stroke="#111" stroke-width="1.35" fill="none"/>
<line x1="218.00" y1="485.30" x2="218.00" y2="571.60" stroke="#111" stroke-width="1.5"/>
<line x1="215.00" y1="486.00" x2="218.00" y2="486.00" stroke="#111" stroke-width="1.5"/>
<text x="212.70" y="489.30" font-size="9.7" text-anchor="end" font-family='"Liberation Serif", serif' font-weight="normal" fill="#111" stroke="#111" stroke-width="0.25">80</text>
<line x1="215.00" y1="507.50" x2="218.00" y2="507.50" stroke="#111" stroke-width="1.5"/>
<text x="212.70" y="510.80" font-size="9.7" text-anchor="end" font-family='"Liberation Serif", serif' font-weight="normal" fill="#111" stroke="#111" stroke-width="0.25">60</text>
<line x1="215.00" y1="528.70" x2="218.00" y2="528.70" stroke="#111" stroke-width="1.5"/>
<text x="212.70" y="532.00" font-size="9.7" text-anchor="end" font-family='"Liberation Serif", serif' font-weight="normal" fill="#111" stroke="#111" stroke-width="0.25">40</text>
<line x1="215.00" y1="549.80" x2="218.00" y2="549.80" stroke="#111" stroke-width="1.5"/>
<text x="212.70" y="553.10" font-size="9.7" text-anchor="end" font-family='"Liberation Serif", serif' font-weight="normal" fill="#111" stroke="#111" stroke-width="0.25">20</text>
<line x1="215.00" y1="570.90" x2="218.00" y2="570.90" stroke="#111" stroke-width="1.5"/>
<text x="212.70" y="574.20" font-size="9.7" text-anchor="end" font-family='"Liberation Serif", serif' font-weight="normal" fill="#111" stroke="#111" stroke-width="0.25">0</text>
<rect x="224.10" y="510.90" width="20.60" height="60.00" fill="#fff" stroke="#111" stroke-width="1.2"/>
<line x1="234.40" y1="510.30" x2="234.40" y2="508.50" stroke="#111" stroke-width="1.2"/>
<line x1="228.95" y1="508.50" x2="239.85" y2="508.50" stroke="#111" stroke-width="1.2"/>
<rect x="255.90" y="514.40" width="20.50" height="56.50" fill="#000" stroke="#111" stroke-width="1.2"/>
<line x1="266.15" y1="513.80" x2="266.15" y2="512.30" stroke="#111" stroke-width="1.2"/>
<line x1="260.72" y1="512.30" x2="271.57" y2="512.30" stroke="#111" stroke-width="1.2"/>
<rect x="287.40" y="512.60" width="20.30" height="58.30" fill="url(#dg)" stroke="#111" stroke-width="1.2"/>
<line x1="297.55" y1="512.00" x2="297.55" y2="510.60" stroke="#111" stroke-width="1.2"/>
<line x1="292.18" y1="510.60" x2="302.93" y2="510.60" stroke="#111" stroke-width="1.2"/>
<rect x="318.60" y="513.60" width="20.20" height="57.30" fill="url(#dg)" stroke="#111" stroke-width="1.2"/>
<line x1="328.70" y1="513.00" x2="328.70" y2="511.80" stroke="#111" stroke-width="1.2"/>
<line x1="323.35" y1="511.80" x2="334.05" y2="511.80" stroke="#111" stroke-width="1.2"/>
<line x1="218.00" y1="570.90" x2="346.00" y2="570.90" stroke="#111" stroke-width="1.5"/>
<text x="234.50" y="582.83" font-size="9.8" text-anchor="middle" font-family='"Liberation Serif", serif' font-weight="normal" fill="#111" stroke="#111" stroke-width="0.25">0</text>
<text x="265.70" y="582.83" font-size="9.8" text-anchor="middle" font-family='"Liberation Serif", serif' font-weight="normal" fill="#111" stroke="#111" stroke-width="0.25">100</text>
<text x="296.80" y="582.83" font-size="9.8" text-anchor="middle" font-family='"Liberation Serif", serif' font-weight="normal" fill="#111" stroke="#111" stroke-width="0.25">200</text>
<text x="328.70" y="582.83" font-size="9.8" text-anchor="middle" font-family='"Liberation Serif", serif' font-weight="normal" fill="#111" stroke="#111" stroke-width="0.25">300</text>
<text x="282.30" y="593.63" font-size="9.8" text-anchor="middle" font-family='"Liberation Serif", serif' font-weight="normal" fill="#111" stroke="#111" stroke-width="0.25">COMP (ng/mL)</text>
<text x="194.00" y="531.33" font-size="9.8" text-anchor="middle" font-family='"Liberation Serif", serif' font-weight="normal" fill="#111" stroke="#111" stroke-width="0.25" transform="rotate(-90 194.00 528.00)">Aggregation (%)</text>
<text x="271.00" y="469.63" font-size="9.8" text-anchor="middle" font-family='"Liberation Serif", serif' font-weight="normal" fill="#111" stroke="#111" stroke-width="0.25">Collagen</text>
<line x1="391.20" y1="485.30" x2="391.20" y2="571.20" stroke="#111" stroke-width="1.5"/>
<line x1="388.20" y1="486.00" x2="391.20" y2="486.00" stroke="#111" stroke-width="1.5"/>
<text x="385.90" y="489.30" font-size="9.7" text-anchor="end" font-family='"Liberation Serif", serif' font-weight="normal" fill="#111" stroke="#111" stroke-width="0.25">50</text>
<line x1="388.20" y1="503.00" x2="391.20" y2="503.00" stroke="#111" stroke-width="1.5"/>
<text x="385.90" y="506.30" font-size="9.7" text-anchor="end" font-family='"Liberation Serif", serif' font-weight="normal" fill="#111" stroke="#111" stroke-width="0.25">40</text>
<line x1="388.20" y1="520.00" x2="391.20" y2="520.00" stroke="#111" stroke-width="1.5"/>
<text x="385.90" y="523.30" font-size="9.7" text-anchor="end" font-family='"Liberation Serif", serif' font-weight="normal" fill="#111" stroke="#111" stroke-width="0.25">30</text>
<line x1="388.20" y1="536.60" x2="391.20" y2="536.60" stroke="#111" stroke-width="1.5"/>
<text x="385.90" y="539.90" font-size="9.7" text-anchor="end" font-family='"Liberation Serif", serif' font-weight="normal" fill="#111" stroke="#111" stroke-width="0.25">20</text>
<line x1="388.20" y1="553.60" x2="391.20" y2="553.60" stroke="#111" stroke-width="1.5"/>
<text x="385.90" y="556.90" font-size="9.7" text-anchor="end" font-family='"Liberation Serif", serif' font-weight="normal" fill="#111" stroke="#111" stroke-width="0.25">10</text>
<line x1="388.20" y1="570.50" x2="391.20" y2="570.50" stroke="#111" stroke-width="1.5"/>
<text x="385.90" y="573.80" font-size="9.7" text-anchor="end" font-family='"Liberation Serif", serif' font-weight="normal" fill="#111" stroke="#111" stroke-width="0.25">0</text>
<rect x="397.60" y="508.80" width="20.00" height="61.70" fill="#fff" stroke="#111" stroke-width="1.2"/>
<line x1="407.60" y1="508.20" x2="407.60" y2="506.20" stroke="#111" stroke-width="1.2"/>
<line x1="402.30" y1="506.20" x2="412.90" y2="506.20" stroke="#111" stroke-width="1.2"/>
<rect x="429.60" y="511.90" width="19.80" height="58.60" fill="#000" stroke="#111" stroke-width="1.2"/>
<line x1="439.50" y1="511.30" x2="439.50" y2="509.60" stroke="#111" stroke-width="1.2"/>
<line x1="434.25" y1="509.60" x2="444.75" y2="509.60" stroke="#111" stroke-width="1.2"/>
<rect x="460.60" y="509.60" width="20.00" height="60.90" fill="url(#dg)" stroke="#111" stroke-width="1.2"/>
<line x1="470.60" y1="509.00" x2="470.60" y2="507.60" stroke="#111" stroke-width="1.2"/>
<line x1="465.30" y1="507.60" x2="475.90" y2="507.60" stroke="#111" stroke-width="1.2"/>
<rect x="492.20" y="512.30" width="20.20" height="58.20" fill="url(#dg)" stroke="#111" stroke-width="1.2"/>
<line x1="502.30" y1="511.70" x2="502.30" y2="509.50" stroke="#111" stroke-width="1.2"/>
<line x1="496.95" y1="509.50" x2="507.65" y2="509.50" stroke="#111" stroke-width="1.2"/>
<line x1="391.20" y1="570.50" x2="516.00" y2="570.50" stroke="#111" stroke-width="1.5"/>
<text x="407.50" y="582.83" font-size="9.8" text-anchor="middle" font-family='"Liberation Serif", serif' font-weight="normal" fill="#111" stroke="#111" stroke-width="0.25">0</text>
<text x="438.70" y="582.83" font-size="9.8" text-anchor="middle" font-family='"Liberation Serif", serif' font-weight="normal" fill="#111" stroke="#111" stroke-width="0.25">100</text>
<text x="470.80" y="582.83" font-size="9.8" text-anchor="middle" font-family='"Liberation Serif", serif' font-weight="normal" fill="#111" stroke="#111" stroke-width="0.25">200</text>
<text x="501.30" y="582.83" font-size="9.8" text-anchor="middle" font-family='"Liberation Serif", serif' font-weight="normal" fill="#111" stroke="#111" stroke-width="0.25">300</text>
<text x="459.40" y="593.63" font-size="9.8" text-anchor="middle" font-family='"Liberation Serif", serif' font-weight="normal" fill="#111" stroke="#111" stroke-width="0.25">COMP (ng/mL)</text>
<text x="367.70" y="531.33" font-size="9.8" text-anchor="middle" font-family='"Liberation Serif", serif' font-weight="normal" fill="#111" stroke="#111" stroke-width="0.25" transform="rotate(-90 367.70 528.00)">Aggregation (%)</text>
<text x="447.00" y="469.63" font-size="9.8" text-anchor="middle" font-family='"Liberation Serif", serif' font-weight="normal" fill="#111" stroke="#111" stroke-width="0.25">ADP</text>
<text x="1.00" y="634.81" font-size="16.5" font-family='"Liberation Sans", sans-serif' font-weight="bold" fill="#000">E</text>
<line x1="35.10" y1="641.30" x2="35.10" y2="728.10" stroke="#111" stroke-width="1.5"/>
<line x1="32.10" y1="642.00" x2="35.10" y2="642.00" stroke="#111" stroke-width="1.5"/>
<text x="28.30" y="645.37" font-size="9.9" text-anchor="end" font-family='"Liberation Serif", serif' font-weight="normal" fill="#111" stroke="#111" stroke-width="0.25">2.0</text>
<line x1="32.10" y1="663.40" x2="35.10" y2="663.40" stroke="#111" stroke-width="1.5"/>
<text x="28.30" y="666.77" font-size="9.9" text-anchor="end" font-family='"Liberation Serif", serif' font-weight="normal" fill="#111" stroke="#111" stroke-width="0.25">1.5</text>
<line x1="32.10" y1="684.50" x2="35.10" y2="684.50" stroke="#111" stroke-width="1.5"/>
<text x="28.30" y="687.87" font-size="9.9" text-anchor="end" font-family='"Liberation Serif", serif' font-weight="normal" fill="#111" stroke="#111" stroke-width="0.25">1.0</text>
<line x1="32.10" y1="706.00" x2="35.10" y2="706.00" stroke="#111" stroke-width="1.5"/>
<text x="28.30" y="709.37" font-size="9.9" text-anchor="end" font-family='"Liberation Serif", serif' font-weight="normal" fill="#111" stroke="#111" stroke-width="0.25">0.5</text>
<line x1="32.10" y1="727.40" x2="35.10" y2="727.40" stroke="#111" stroke-width="1.5"/>
<text x="28.30" y="730.77" font-size="9.9" text-anchor="end" font-family='"Liberation Serif", serif' font-weight="normal" fill="#111" stroke="#111" stroke-width="0.25">0</text>
<rect x="41.10" y="660.90" width="19.90" height="66.50" fill="#fff" stroke="#111" stroke-width="1.2"/>
<line x1="51.05" y1="660.30" x2="51.05" y2="657.50" stroke="#111" stroke-width="1.2"/>
<line x1="45.77" y1="657.50" x2="56.32" y2="657.50" stroke="#111" stroke-width="1.2"/>
<rect x="73.30" y="684.10" width="20.30" height="43.30" fill="#000" stroke="#111" stroke-width="1.2"/>
<line x1="83.45" y1="683.50" x2="83.45" y2="677.60" stroke="#111" stroke-width="1.2"/>
<line x1="78.08" y1="677.60" x2="88.83" y2="677.60" stroke="#111" stroke-width="1.2"/>
<rect x="105.50" y="710.00" width="20.20" height="17.40" fill="url(#dg)" stroke="#111" stroke-width="1.2"/>
<line x1="115.60" y1="709.40" x2="115.60" y2="702.50" stroke="#111" stroke-width="1.2"/>
<line x1="110.25" y1="702.50" x2="120.95" y2="702.50" stroke="#111" stroke-width="1.2"/>
<rect x="137.30" y="724.90" width="20.30" height="2.50" fill="url(#dg)" stroke="#111" stroke-width="1.2"/>
<line x1="147.45" y1="724.30" x2="147.45" y2="721.50" stroke="#111" stroke-width="1.2"/>
<line x1="142.07" y1="721.50" x2="152.82" y2="721.50" stroke="#111" stroke-width="1.2"/>
<line x1="35.10" y1="727.40" x2="168.00" y2="727.40" stroke="#111" stroke-width="1.5"/>
<text x="50.90" y="740.33" font-size="9.8" text-anchor="middle" font-family='"Liberation Serif", serif' font-weight="normal" fill="#111" stroke="#111" stroke-width="0.25">0</text>
<text x="83.00" y="740.33" font-size="9.8" text-anchor="middle" font-family='"Liberation Serif", serif' font-weight="normal" fill="#111" stroke="#111" stroke-width="0.25">100</text>
<text x="115.30" y="740.33" font-size="9.8" text-anchor="middle" font-family='"Liberation Serif", serif' font-weight="normal" fill="#111" stroke="#111" stroke-width="0.25">200</text>
<text x="147.80" y="740.33" font-size="9.8" text-anchor="middle" font-family='"Liberation Serif", serif' font-weight="normal" fill="#111" stroke="#111" stroke-width="0.25">300</text>
<text x="98.60" y="754.33" font-size="9.8" text-anchor="middle" font-family='"Liberation Serif", serif' font-weight="normal" fill="#111" stroke="#111" stroke-width="0.25">COMP (ng/mL)</text>
<text x="6.90" y="691.33" font-size="9.8" text-anchor="middle" font-family='"Liberation Serif", serif' font-weight="normal" fill="#111" stroke="#111" stroke-width="0.25" transform="rotate(-90 6.90 688.00)">ATP (μM)</text>
<text x="100.00" y="637.63" font-size="9.8" text-anchor="middle" font-family='"Liberation Serif", serif' font-weight="normal" fill="#111" stroke="#111" stroke-width="0.25">Thrombin</text>
<path d="M83.00,671.85L83.00,664.15M79.67,669.92L86.33,666.08M79.67,666.08L86.33,669.92" stroke="#111" stroke-width="1.35" fill="none"/>
<path d="M115.30,697.65L115.30,689.95M111.97,695.72L118.63,691.88M111.97,691.88L118.63,695.72" stroke="#111" stroke-width="1.35" fill="none"/>
<path d="M147.80,716.05L147.80,708.35M144.47,714.12L151.13,710.28M144.47,710.28L151.13,714.12" stroke="#111" stroke-width="1.35" fill="none"/>
<line x1="214.50" y1="644.00" x2="214.50" y2="727.70" stroke="#111" stroke-width="1.5"/>
<line x1="211.50" y1="644.70" x2="214.50" y2="644.70" stroke="#111" stroke-width="1.5"/>
<text x="208.10" y="648.07" font-size="9.9" text-anchor="end" font-family='"Liberation Serif", serif' font-weight="normal" fill="#111" stroke="#111" stroke-width="0.25">1.0</text>
<line x1="211.50" y1="661.30" x2="214.50" y2="661.30" stroke="#111" stroke-width="1.5"/>
<text x="208.10" y="664.67" font-size="9.9" text-anchor="end" font-family='"Liberation Serif", serif' font-weight="normal" fill="#111" stroke="#111" stroke-width="0.25">0.8</text>
<line x1="211.50" y1="677.60" x2="214.50" y2="677.60" stroke="#111" stroke-width="1.5"/>
<text x="208.10" y="680.97" font-size="9.9" text-anchor="end" font-family='"Liberation Serif", serif' font-weight="normal" fill="#111" stroke="#111" stroke-width="0.25">0.6</text>
<line x1="211.50" y1="693.80" x2="214.50" y2="693.80" stroke="#111" stroke-width="1.5"/>
<text x="208.10" y="697.17" font-size="9.9" text-anchor="end" font-family='"Liberation Serif", serif' font-weight="normal" fill="#111" stroke="#111" stroke-width="0.25">0.4</text>
<line x1="211.50" y1="710.50" x2="214.50" y2="710.50" stroke="#111" stroke-width="1.5"/>
<text x="208.10" y="713.87" font-size="9.9" text-anchor="end" font-family='"Liberation Serif", serif' font-weight="normal" fill="#111" stroke="#111" stroke-width="0.25">0.2</text>
<line x1="211.50" y1="727.00" x2="214.50" y2="727.00" stroke="#111" stroke-width="1.5"/>
<text x="208.10" y="730.37" font-size="9.9" text-anchor="end" font-family='"Liberation Serif", serif' font-weight="normal" fill="#111" stroke="#111" stroke-width="0.25">0</text>
<rect x="220.10" y="657.40" width="20.30" height="69.60" fill="#fff" stroke="#111" stroke-width="1.2"/>
<line x1="230.25" y1="656.80" x2="230.25" y2="654.40" stroke="#111" stroke-width="1.2"/>
<line x1="224.88" y1="654.40" x2="235.62" y2="654.40" stroke="#111" stroke-width="1.2"/>
<rect x="251.20" y="656.40" width="20.20" height="70.60" fill="#000" stroke="#111" stroke-width="1.2"/>
<line x1="261.30" y1="655.80" x2="261.30" y2="655.00" stroke="#111" stroke-width="1.2"/>
<line x1="255.95" y1="655.00" x2="266.65" y2="655.00" stroke="#111" stroke-width="1.2"/>
<rect x="282.40" y="655.00" width="20.30" height="72.00" fill="url(#dg)" stroke="#111" stroke-width="1.2"/>
<line x1="292.55" y1="654.40" x2="292.55" y2="651.60" stroke="#111" stroke-width="1.2"/>
<line x1="287.18" y1="651.60" x2="297.93" y2="651.60" stroke="#111" stroke-width="1.2"/>
<rect x="313.20" y="659.10" width="20.20" height="67.90" fill="url(#dg)" stroke="#111" stroke-width="1.2"/>
<line x1="323.30" y1="658.50" x2="323.30" y2="656.50" stroke="#111" stroke-width="1.2"/>
<line x1="317.95" y1="656.50" x2="328.65" y2="656.50" stroke="#111" stroke-width="1.2"/>
<line x1="214.50" y1="727.00" x2="345.00" y2="727.00" stroke="#111" stroke-width="1.5"/>
<text x="230.60" y="740.33" font-size="9.8" text-anchor="middle" font-family='"Liberation Serif", serif' font-weight="normal" fill="#111" stroke="#111" stroke-width="0.25">0</text>
<text x="261.00" y="740.33" font-size="9.8" text-anchor="middle" font-family='"Liberation Serif", serif' font-weight="normal" fill="#111" stroke="#111" stroke-width="0.25">100</text>
<text x="292.20" y="740.33" font-size="9.8" text-anchor="middle" font-family='"Liberation Serif", serif' font-weight="normal" fill="#111" stroke="#111" stroke-width="0.25">200</text>
<text x="323.30" y="740.33" font-size="9.8" text-anchor="middle" font-family='"Liberation Serif", serif' font-weight="normal" fill="#111" stroke="#111" stroke-width="0.25">300</text>
<text x="277.30" y="754.33" font-size="9.8" text-anchor="middle" font-family='"Liberation Serif", serif' font-weight="normal" fill="#111" stroke="#111" stroke-width="0.25">COMP (ng/mL)</text>
<text x="184.00" y="691.83" font-size="9.8" text-anchor="middle" font-family='"Liberation Serif", serif' font-weight="normal" fill="#111" stroke="#111" stroke-width="0.25" transform="rotate(-90 184.00 688.50)">ATP (μM)</text>
<text x="276.00" y="637.63" font-size="9.8" text-anchor="middle" font-family='"Liberation Serif", serif' font-weight="normal" fill="#111" stroke="#111" stroke-width="0.25">Collagen</text>
<line x1="391.20" y1="643.60" x2="391.20" y2="728.50" stroke="#111" stroke-width="1.5"/>
<line x1="388.20" y1="644.30" x2="391.20" y2="644.30" stroke="#111" stroke-width="1.5"/>
<text x="384.80" y="647.67" font-size="9.9" text-anchor="end" font-family='"Liberation Serif", serif' font-weight="normal" fill="#111" stroke="#111" stroke-width="0.25">0.8</text>
<line x1="388.20" y1="665.00" x2="391.20" y2="665.00" stroke="#111" stroke-width="1.5"/>
<text x="384.80" y="668.37" font-size="9.9" text-anchor="end" font-family='"Liberation Serif", serif' font-weight="normal" fill="#111" stroke="#111" stroke-width="0.25">0.6</text>
<line x1="388.20" y1="686.20" x2="391.20" y2="686.20" stroke="#111" stroke-width="1.5"/>
<text x="384.80" y="689.57" font-size="9.9" text-anchor="end" font-family='"Liberation Serif", serif' font-weight="normal" fill="#111" stroke="#111" stroke-width="0.25">0.4</text>
<line x1="388.20" y1="707.00" x2="391.20" y2="707.00" stroke="#111" stroke-width="1.5"/>
<text x="384.80" y="710.37" font-size="9.9" text-anchor="end" font-family='"Liberation Serif", serif' font-weight="normal" fill="#111" stroke="#111" stroke-width="0.25">0.2</text>
<line x1="388.20" y1="727.80" x2="391.20" y2="727.80" stroke="#111" stroke-width="1.5"/>
<text x="384.80" y="731.17" font-size="9.9" text-anchor="end" font-family='"Liberation Serif", serif' font-weight="normal" fill="#111" stroke="#111" stroke-width="0.25">0</text>
<rect x="398.40" y="669.90" width="20.00" height="57.90" fill="#fff" stroke="#111" stroke-width="1.2"/>
<line x1="408.40" y1="669.30" x2="408.40" y2="666.80" stroke="#111" stroke-width="1.2"/>
<line x1="403.10" y1="666.80" x2="413.70" y2="666.80" stroke="#111" stroke-width="1.2"/>
<rect x="429.60" y="671.90" width="19.80" height="55.90" fill="#000" stroke="#111" stroke-width="1.2"/>
<line x1="439.50" y1="671.30" x2="439.50" y2="670.40" stroke="#111" stroke-width="1.2"/>
<line x1="434.25" y1="670.40" x2="444.75" y2="670.40" stroke="#111" stroke-width="1.2"/>
<rect x="460.60" y="673.00" width="20.00" height="54.80" fill="url(#dg)" stroke="#111" stroke-width="1.2"/>
<line x1="470.60" y1="672.40" x2="470.60" y2="668.00" stroke="#111" stroke-width="1.2"/>
<line x1="465.30" y1="668.00" x2="475.90" y2="668.00" stroke="#111" stroke-width="1.2"/>
<rect x="491.90" y="670.90" width="19.50" height="56.90" fill="url(#dg)" stroke="#111" stroke-width="1.2"/>
<line x1="501.65" y1="670.30" x2="501.65" y2="668.20" stroke="#111" stroke-width="1.2"/>
<line x1="496.47" y1="668.20" x2="506.82" y2="668.20" stroke="#111" stroke-width="1.2"/>
<line x1="391.20" y1="727.80" x2="516.00" y2="727.80" stroke="#111" stroke-width="1.5"/>
<text x="408.50" y="741.13" font-size="9.8" text-anchor="middle" font-family='"Liberation Serif", serif' font-weight="normal" fill="#111" stroke="#111" stroke-width="0.25">0</text>
<text x="439.70" y="741.13" font-size="9.8" text-anchor="middle" font-family='"Liberation Serif", serif' font-weight="normal" fill="#111" stroke="#111" stroke-width="0.25">100</text>
<text x="470.80" y="741.13" font-size="9.8" text-anchor="middle" font-family='"Liberation Serif", serif' font-weight="normal" fill="#111" stroke="#111" stroke-width="0.25">200</text>
<text x="501.60" y="741.13" font-size="9.8" text-anchor="middle" font-family='"Liberation Serif", serif' font-weight="normal" fill="#111" stroke="#111" stroke-width="0.25">300</text>
<text x="459.40" y="754.93" font-size="9.8" text-anchor="middle" font-family='"Liberation Serif", serif' font-weight="normal" fill="#111" stroke="#111" stroke-width="0.25">COMP (ng/mL)</text>
<text x="362.00" y="691.33" font-size="9.8" text-anchor="middle" font-family='"Liberation Serif", serif' font-weight="normal" fill="#111" stroke="#111" stroke-width="0.25" transform="rotate(-90 362.00 688.00)">ATP (μM)</text>
<text x="456.00" y="637.63" font-size="9.8" text-anchor="middle" font-family='"Liberation Serif", serif' font-weight="normal" fill="#111" stroke="#111" stroke-width="0.25">ADP</text>
<text x="1.20" y="779.61" font-size="16.5" font-family='"Liberation Sans", sans-serif' font-weight="bold" fill="#000">F</text>
<line x1="62.10" y1="787.00" x2="62.10" y2="918.10" stroke="#111" stroke-width="1.5"/>
<line x1="57.80" y1="917.40" x2="62.10" y2="917.40" stroke="#111" stroke-width="1.5"/>
<text x="51.60" y="920.56" font-size="9.3" text-anchor="end" font-family='"Liberation Serif", serif' font-weight="normal" fill="#111" stroke="#111" stroke-width="0.25">0</text>
<line x1="59.90" y1="911.23" x2="62.10" y2="911.23" stroke="#111" stroke-width="1.5"/>
<line x1="59.90" y1="905.05" x2="62.10" y2="905.05" stroke="#111" stroke-width="1.5"/>
<line x1="59.90" y1="898.88" x2="62.10" y2="898.88" stroke="#111" stroke-width="1.5"/>
<line x1="57.80" y1="892.70" x2="62.10" y2="892.70" stroke="#111" stroke-width="1.5"/>
<text x="51.60" y="895.86" font-size="9.3" text-anchor="end" font-family='"Liberation Serif", serif' font-weight="normal" fill="#111" stroke="#111" stroke-width="0.25">20</text>
<line x1="59.90" y1="886.52" x2="62.10" y2="886.52" stroke="#111" stroke-width="1.5"/>
<line x1="59.90" y1="880.35" x2="62.10" y2="880.35" stroke="#111" stroke-width="1.5"/>
<line x1="59.90" y1="874.17" x2="62.10" y2="874.17" stroke="#111" stroke-width="1.5"/>
<line x1="57.80" y1="868.00" x2="62.10" y2="868.00" stroke="#111" stroke-width="1.5"/>
<text x="51.60" y="871.16" font-size="9.3" text-anchor="end" font-family='"Liberation Serif", serif' font-weight="normal" fill="#111" stroke="#111" stroke-width="0.25">40</text>
<line x1="59.90" y1="861.82" x2="62.10" y2="861.82" stroke="#111" stroke-width="1.5"/>
<line x1="59.90" y1="855.65" x2="62.10" y2="855.65" stroke="#111" stroke-width="1.5"/>
<line x1="59.90" y1="849.47" x2="62.10" y2="849.47" stroke="#111" stroke-width="1.5"/>
<line x1="57.80" y1="843.30" x2="62.10" y2="843.30" stroke="#111" stroke-width="1.5"/>
<text x="51.60" y="846.46" font-size="9.3" text-anchor="end" font-family='"Liberation Serif", serif' font-weight="normal" fill="#111" stroke="#111" stroke-width="0.25">60</text>
<line x1="59.90" y1="837.12" x2="62.10" y2="837.12" stroke="#111" stroke-width="1.5"/>
<line x1="59.90" y1="830.95" x2="62.10" y2="830.95" stroke="#111" stroke-width="1.5"/>
<line x1="59.90" y1="824.77" x2="62.10" y2="824.77" stroke="#111" stroke-width="1.5"/>
<line x1="57.80" y1="818.60" x2="62.10" y2="818.60" stroke="#111" stroke-width="1.5"/>
<text x="51.60" y="821.76" font-size="9.3" text-anchor="end" font-family='"Liberation Serif", serif' font-weight="normal" fill="#111" stroke="#111" stroke-width="0.25">80</text>
<line x1="59.90" y1="812.42" x2="62.10" y2="812.42" stroke="#111" stroke-width="1.5"/>
<line x1="59.90" y1="806.25" x2="62.10" y2="806.25" stroke="#111" stroke-width="1.5"/>
<line x1="59.90" y1="800.07" x2="62.10" y2="800.07" stroke="#111" stroke-width="1.5"/>
<line x1="57.80" y1="793.90" x2="62.10" y2="793.90" stroke="#111" stroke-width="1.5"/>
<text x="51.60" y="797.06" font-size="9.3" text-anchor="end" font-family='"Liberation Serif", serif' font-weight="normal" fill="#111" stroke="#111" stroke-width="0.25">100</text>
<line x1="62.10" y1="917.40" x2="194.50" y2="917.40" stroke="#111" stroke-width="1.5"/>
<line x1="62.00" y1="917.40" x2="62.00" y2="920.60" stroke="#111" stroke-width="1.2"/>
<text x="60.70" y="934.70" font-size="9.3" text-anchor="middle" font-family='"Liberation Serif", serif' fill="#111">10<tspan font-size="5" dy="-3.6">0</tspan></text>
<line x1="72.05" y1="917.40" x2="72.05" y2="919.40" stroke="#111" stroke-width="1.0"/>
<line x1="77.94" y1="917.40" x2="77.94" y2="919.40" stroke="#111" stroke-width="1.0"/>
<line x1="82.11" y1="917.40" x2="82.11" y2="919.40" stroke="#111" stroke-width="1.0"/>
<line x1="85.35" y1="917.40" x2="85.35" y2="919.40" stroke="#111" stroke-width="1.0"/>
<line x1="87.99" y1="917.40" x2="87.99" y2="919.40" stroke="#111" stroke-width="1.0"/>
<line x1="90.23" y1="917.40" x2="90.23" y2="919.40" stroke="#111" stroke-width="1.0"/>
<line x1="92.16" y1="917.40" x2="92.16" y2="919.40" stroke="#111" stroke-width="1.0"/>
<line x1="93.87" y1="917.40" x2="93.87" y2="919.40" stroke="#111" stroke-width="1.0"/>
<line x1="95.40" y1="917.40" x2="95.40" y2="920.60" stroke="#111" stroke-width="1.2"/>
<text x="94.10" y="934.70" font-size="9.3" text-anchor="middle" font-family='"Liberation Serif", serif' fill="#111">10<tspan font-size="5" dy="-3.6">1</tspan></text>
<line x1="105.33" y1="917.40" x2="105.33" y2="919.40" stroke="#111" stroke-width="1.0"/>
<line x1="111.15" y1="917.40" x2="111.15" y2="919.40" stroke="#111" stroke-width="1.0"/>
<line x1="115.27" y1="917.40" x2="115.27" y2="919.40" stroke="#111" stroke-width="1.0"/>
<line x1="118.47" y1="917.40" x2="118.47" y2="919.40" stroke="#111" stroke-width="1.0"/>
<line x1="121.08" y1="917.40" x2="121.08" y2="919.40" stroke="#111" stroke-width="1.0"/>
<line x1="123.29" y1="917.40" x2="123.29" y2="919.40" stroke="#111" stroke-width="1.0"/>
<line x1="125.20" y1="917.40" x2="125.20" y2="919.40" stroke="#111" stroke-width="1.0"/>
<line x1="126.89" y1="917.40" x2="126.89" y2="919.40" stroke="#111" stroke-width="1.0"/>
<line x1="128.40" y1="917.40" x2="128.40" y2="920.60" stroke="#111" stroke-width="1.2"/>
<text x="127.10" y="934.70" font-size="9.3" text-anchor="middle" font-family='"Liberation Serif", serif' fill="#111">10<tspan font-size="5" dy="-3.6">2</tspan></text>
<line x1="138.27" y1="917.40" x2="138.27" y2="919.40" stroke="#111" stroke-width="1.0"/>
<line x1="144.05" y1="917.40" x2="144.05" y2="919.40" stroke="#111" stroke-width="1.0"/>
<line x1="148.15" y1="917.40" x2="148.15" y2="919.40" stroke="#111" stroke-width="1.0"/>
<line x1="151.33" y1="917.40" x2="151.33" y2="919.40" stroke="#111" stroke-width="1.0"/>
<line x1="153.92" y1="917.40" x2="153.92" y2="919.40" stroke="#111" stroke-width="1.0"/>
<line x1="156.12" y1="917.40" x2="156.12" y2="919.40" stroke="#111" stroke-width="1.0"/>
<line x1="158.02" y1="917.40" x2="158.02" y2="919.40" stroke="#111" stroke-width="1.0"/>
<line x1="159.70" y1="917.40" x2="159.70" y2="919.40" stroke="#111" stroke-width="1.0"/>
<line x1="161.20" y1="917.40" x2="161.20" y2="920.60" stroke="#111" stroke-width="1.2"/>
<text x="159.90" y="934.70" font-size="9.3" text-anchor="middle" font-family='"Liberation Serif", serif' fill="#111">10<tspan font-size="5" dy="-3.6">3</tspan></text>
<line x1="171.13" y1="917.40" x2="171.13" y2="919.40" stroke="#111" stroke-width="1.0"/>
<line x1="176.95" y1="917.40" x2="176.95" y2="919.40" stroke="#111" stroke-width="1.0"/>
<line x1="181.07" y1="917.40" x2="181.07" y2="919.40" stroke="#111" stroke-width="1.0"/>
<line x1="184.27" y1="917.40" x2="184.27" y2="919.40" stroke="#111" stroke-width="1.0"/>
<line x1="186.88" y1="917.40" x2="186.88" y2="919.40" stroke="#111" stroke-width="1.0"/>
<line x1="189.09" y1="917.40" x2="189.09" y2="919.40" stroke="#111" stroke-width="1.0"/>
<line x1="191.00" y1="917.40" x2="191.00" y2="919.40" stroke="#111" stroke-width="1.0"/>
<line x1="192.69" y1="917.40" x2="192.69" y2="919.40" stroke="#111" stroke-width="1.0"/>
<line x1="194.20" y1="917.40" x2="194.20" y2="920.60" stroke="#111" stroke-width="1.2"/>
<text x="192.90" y="934.70" font-size="9.3" text-anchor="middle" font-family='"Liberation Serif", serif' fill="#111">10<tspan font-size="5" dy="-3.6">4</tspan></text>
<text x="127.40" y="948.83" font-size="9.8" text-anchor="middle" font-family='"Liberation Serif", serif' font-weight="normal" fill="#111" stroke="#111" stroke-width="0.25">FL1:Annexin V</text>
<text x="30.40" y="862.03" font-size="9.8" text-anchor="middle" font-family='"Liberation Serif", serif' font-weight="normal" fill="#111" stroke="#111" stroke-width="0.25" transform="rotate(-90 30.40 858.70)">Cell Count (% of Max)</text>
<polyline points="62.3,841.5 62.8,839.8 64.7,833.0 66.7,827.3 67.6,826.5 68.6,829.2 70.0,823.5 71.5,819.6 72.4,816.5 73.4,810.0 74.3,812.0 75.3,813.8 76.2,810.0 77.2,807.0 78.2,801.3 79.2,797.5 80.3,801.3 81.0,807.0 82.0,813.8 83.5,820.6 84.9,826.3 86.4,833.0 87.3,838.8 88.3,847.5 89.0,857.0 89.7,866.7 90.8,874.0 92.0,882.0 93.5,889.0 95.0,895.0 96.5,900.0 98.0,905.0 100.0,908.3 102.9,910.2 105.8,911.2 109.6,913.1 114.4,913.6 119.2,914.0 124.0,916.0 126.9,916.7 132.0,917.2" fill="none" stroke="#c83838" stroke-width="1.2" stroke-linejoin="round"/>
<polyline points="62.3,801.3 63.8,803.2 65.2,804.2 66.7,805.2 68.0,808.0 69.0,812.0 70.0,816.7 71.5,820.6 72.4,823.5 73.4,818.7 74.3,820.6 75.3,825.4 76.3,832.0 77.3,833.0 78.7,835.0 80.6,836.0 82.0,837.4 83.5,838.8 84.5,839.8 85.4,847.5 86.4,857.0 87.8,863.8 89.7,861.0 91.6,862.0 93.6,865.8 95.5,869.6 97.4,863.8 100.0,857.3 102.4,859.2 104.8,867.0 106.7,858.3 108.7,854.4 110.6,854.4 112.5,848.7 114.4,844.8 116.3,843.8 118.3,837.1 120.2,830.4 121.6,834.2 123.1,848.7 124.5,851.5 126.4,851.5 127.9,856.3 129.8,864.0 131.7,866.9 134.1,868.8 136.1,874.6 138.0,879.4 140.4,881.3 142.3,880.4 144.2,885.2 146.4,880.2 147.9,876.8 149.3,879.2 150.8,881.6 152.2,879.2 153.7,877.3 155.6,877.8 157.0,879.2 158.5,886.0 160.4,890.8 162.3,888.8 163.8,890.8 165.2,894.6 167.1,898.5 169.0,905.2 171.0,910.0 173.4,913.8 175.8,916.3 178.2,916.9 182.0,917.2" fill="none" stroke="#5b8fdc" stroke-width="1.2" stroke-linejoin="round"/>
<polyline points="62.3,812.0 63.8,812.9 65.7,813.8 67.6,815.8 69.0,816.7 70.5,818.7 71.9,821.5 73.4,818.7 74.3,819.6 75.3,823.5 76.3,827.3 77.2,821.5 78.2,816.7 79.6,814.8 81.6,815.3 83.0,816.7 84.4,818.7 85.4,820.0 86.8,817.7 88.8,816.7 90.7,814.8 92.1,815.8 93.1,811.0 94.0,808.0 95.0,806.2 96.0,803.3 96.9,800.9 97.9,804.2 98.9,813.8 99.8,825.4 100.8,832.0 101.9,834.2 103.8,834.2 105.8,843.8 107.2,840.0 108.7,845.8 110.6,855.4 112.5,864.0 114.4,868.8 115.9,864.0 117.3,857.3 118.8,863.1 120.7,870.8 123.1,878.5 126.0,880.4 128.8,881.3 130.8,884.2 132.7,892.9 134.6,896.7 137.5,897.7 140.4,899.6 142.8,899.6 145.2,904.4 147.9,907.1 150.8,910.0 154.6,912.9 158.5,914.8 162.3,916.3 166.0,917.0 170.0,917.2" fill="none" stroke="#22224a" stroke-width="1.45" stroke-linejoin="round"/>
<line x1="201.60" y1="800.50" x2="221.30" y2="800.50" stroke="#c83838" stroke-width="1.3"/>
<text x="227.70" y="803.83" font-size="9.8" text-anchor="start" font-family='"Liberation Serif", serif' font-weight="normal" fill="#111" stroke="#111" stroke-width="0.25">Control</text>
<line x1="201.60" y1="816.40" x2="221.30" y2="816.40" stroke="#5b8fdc" stroke-width="1.3"/>
<text x="227.70" y="819.73" font-size="9.8" text-anchor="start" font-family='"Liberation Serif", serif' font-weight="normal" fill="#111" stroke="#111" stroke-width="0.25">Thrombin</text>
<line x1="201.60" y1="832.30" x2="221.30" y2="832.30" stroke="#22224a" stroke-width="1.3"/>
<text x="227.70" y="835.63" font-size="9.8" text-anchor="start" font-family='"Liberation Serif", serif' font-weight="normal" fill="#111" stroke="#111" stroke-width="0.25">Thrombin</text>
<text x="227.70" y="846.63" font-size="9.8" text-anchor="start" font-family='"Liberation Serif", serif' font-weight="normal" fill="#111" stroke="#111" stroke-width="0.25">+COMP</text>
<line x1="359.50" y1="801.10" x2="359.50" y2="898.70" stroke="#111" stroke-width="1.5"/>
<line x1="356.50" y1="801.80" x2="359.50" y2="801.80" stroke="#111" stroke-width="1.5"/>
<text x="352.30" y="805.06" font-size="9.6" text-anchor="end" font-family='"Liberation Serif", serif' font-weight="normal" fill="#111" stroke="#111" stroke-width="0.25">1500</text>
<line x1="356.50" y1="834.00" x2="359.50" y2="834.00" stroke="#111" stroke-width="1.5"/>
<text x="352.30" y="837.26" font-size="9.6" text-anchor="end" font-family='"Liberation Serif", serif' font-weight="normal" fill="#111" stroke="#111" stroke-width="0.25">1000</text>
<line x1="356.50" y1="866.00" x2="359.50" y2="866.00" stroke="#111" stroke-width="1.5"/>
<text x="352.30" y="869.26" font-size="9.6" text-anchor="end" font-family='"Liberation Serif", serif' font-weight="normal" fill="#111" stroke="#111" stroke-width="0.25">500</text>
<line x1="356.50" y1="898.00" x2="359.50" y2="898.00" stroke="#111" stroke-width="1.5"/>
<text x="352.30" y="901.26" font-size="9.6" text-anchor="end" font-family='"Liberation Serif", serif' font-weight="normal" fill="#111" stroke="#111" stroke-width="0.25">0</text>
<rect x="367.10" y="897.40" width="32.30" height="0.60" fill="#fff" stroke="#111" stroke-width="1.2"/>
<rect x="416.10" y="823.20" width="31.80" height="74.80" fill="url(#chk)" stroke="#111" stroke-width="1.2"/>
<line x1="432.00" y1="822.60" x2="432.00" y2="810.80" stroke="#111" stroke-width="1.2"/>
<line x1="423.75" y1="810.80" x2="440.25" y2="810.80" stroke="#111" stroke-width="1.2"/>
<rect x="464.60" y="884.60" width="31.00" height="13.40" fill="url(#hst)" stroke="#111" stroke-width="1.2"/>
<line x1="480.10" y1="884.00" x2="480.10" y2="881.40" stroke="#111" stroke-width="1.2"/>
<line x1="472.05" y1="881.40" x2="488.15" y2="881.40" stroke="#111" stroke-width="1.2"/>
<line x1="359.50" y1="898.00" x2="505.00" y2="898.00" stroke="#111" stroke-width="1.5"/>
<polyline points="384.6,806.5 384.6,802.3 429.0,802.3 429.0,806.5" fill="none" stroke="#111" stroke-width="1.45" stroke-linejoin="round"/>
<polyline points="435.4,806.5 435.4,802.3 479.8,802.3 479.8,806.5" fill="none" stroke="#111" stroke-width="1.45" stroke-linejoin="round"/>
<path d="M407.90,799.65L407.90,791.95M404.57,797.72L411.23,793.88M404.57,793.88L411.23,797.72" stroke="#111" stroke-width="1.35" fill="none"/>
<path d="M458.60,799.65L458.60,791.95M455.27,797.72L461.93,793.88M455.27,793.88L461.93,797.72" stroke="#111" stroke-width="1.35" fill="none"/>
<text x="388.80" y="908.60" font-size="10" stroke="#111" stroke-width="0.25" text-anchor="end" font-family='"Liberation Serif", serif' fill="#111" transform="rotate(-45 388.80 908.60)">Control</text>
<text x="433.30" y="907.20" font-size="10" stroke="#111" stroke-width="0.25" text-anchor="end" font-family='"Liberation Serif", serif' fill="#111" transform="rotate(-45 433.30 907.20)">Thrombin</text>
<text x="484.30" y="907.20" font-size="10" stroke="#111" stroke-width="0.25" text-anchor="end" font-family='"Liberation Serif", serif' fill="#111" transform="rotate(-45 484.30 907.20)">Thrombin+COMP</text>
<text x="322.50" y="858.33" font-size="9.8" text-anchor="middle" font-family='"Liberation Serif", serif' font-weight="normal" fill="#111" stroke="#111" stroke-width="0.25" transform="rotate(-90 322.50 855.00)">MFI of Annexin V</text>
<text x="1.00" y="978.21" font-size="16.5" font-family='"Liberation Sans", sans-serif' font-weight="bold" fill="#000">G</text>
<g filter="url(#blur)"><rect x="66.60" y="984.80" width="23.20" height="38.60" rx="2.2" fill="#f5f0ee"/><rect x="67.06" y="989.43" width="22.27" height="32.81" rx="1.5" fill="#d87650"/><rect x="67.30" y="1014.91" width="21.81" height="7.33" rx="1.5" fill="#cf7048"/><rect x="67.30" y="984.80" width="21.81" height="5.40" rx="2" fill="#f6eeec"/><path d="M67.30,988.66 Q78.20,992.52 89.10,988.66" stroke="#b4604c" stroke-width="1.1" fill="none"/></g>
<g filter="url(#blur)"><rect x="97.30" y="984.80" width="23.80" height="38.60" rx="2.2" fill="#f5f0ee"/><rect x="97.78" y="989.43" width="22.85" height="32.81" rx="1.5" fill="#e2b49c"/><path d="M97.54,989.43 L120.86,989.43 L120.07,993.10 L119.43,996.77 L118.95,1000.43 L118.72,1004.10 L118.95,1008.64 L119.43,1013.17 L120.07,1017.71 L120.86,1022.24 L97.54,1022.24 L98.33,1017.71 L98.97,1013.17 L99.45,1008.64 L99.68,1004.10 L99.45,1000.43 L98.97,996.77 L98.33,993.10Z" fill="url(#hg2)" opacity="1"/><rect x="98.01" y="984.80" width="22.37" height="5.40" rx="2" fill="#f6eeec"/><path d="M98.01,988.66 Q109.20,992.52 120.39,988.66" stroke="#b4604c" stroke-width="1.1" fill="none"/></g>
<g filter="url(#blur)"><rect x="128.00" y="984.80" width="22.50" height="38.60" rx="2.2" fill="#f5f0ee"/><rect x="128.45" y="989.82" width="21.60" height="32.42" rx="1.5" fill="#f8f0ec"/><path d="M128.68,989.82 L149.82,989.82 L147.58,992.91 L145.75,995.99 L144.41,999.08 L143.75,1002.17 L144.46,1007.19 L145.90,1012.21 L147.87,1017.22 L150.28,1022.24 L128.22,1022.24 L130.63,1017.22 L132.60,1012.21 L134.04,1007.19 L134.75,1002.17 L134.09,999.08 L132.75,995.99 L130.92,992.91Z" fill="url(#hg1)" opacity="1"/><rect x="128.68" y="984.80" width="21.15" height="5.02" rx="2" fill="#f6eeec"/><path d="M128.68,988.27 Q139.25,992.13 149.82,988.27" stroke="#b4604c" stroke-width="1.1" fill="none"/></g>
<g filter="url(#blur)"><rect x="157.80" y="984.80" width="22.90" height="38.60" rx="2.2" fill="#f5f0ee"/><rect x="158.26" y="991.36" width="21.98" height="30.88" rx="1.5" fill="#f8f0ec"/><path d="M158.49,991.36 L180.01,991.36 L177.39,994.06 L175.26,996.77 L173.69,999.47 L172.91,1002.17 L173.74,1007.19 L175.41,1012.21 L177.68,1017.22 L180.47,1022.24 L158.03,1022.24 L160.82,1017.22 L163.09,1012.21 L164.76,1007.19 L165.59,1002.17 L164.81,999.47 L163.24,996.77 L161.11,994.06Z" fill="url(#hg1)" opacity="1"/><rect x="158.49" y="984.80" width="21.53" height="6.56" rx="2" fill="#f6eeec"/><path d="M158.49,989.82 Q169.25,993.68 180.01,989.82" stroke="#b4604c" stroke-width="1.1" fill="none"/></g>
<g filter="url(#blur)"><rect x="188.20" y="984.80" width="22.60" height="38.60" rx="2.2" fill="#f5f0ee"/><rect x="188.65" y="992.52" width="21.70" height="29.72" rx="1.5" fill="#f8f0ec"/><path d="M188.88,992.52 L210.12,992.52 L207.62,994.93 L205.58,997.34 L204.08,999.76 L203.34,1002.17 L204.13,1007.19 L205.73,1012.21 L207.91,1017.22 L210.57,1022.24 L188.43,1022.24 L191.09,1017.22 L193.27,1012.21 L194.87,1007.19 L195.66,1002.17 L194.92,999.76 L193.42,997.34 L191.38,994.93Z" fill="url(#hg1)" opacity="1"/><rect x="188.88" y="984.80" width="21.24" height="7.72" rx="2" fill="#f6eeec"/><path d="M188.88,990.98 Q199.50,994.84 210.12,990.98" stroke="#b4604c" stroke-width="1.1" fill="none"/></g>
<g filter="url(#blur)"><rect x="66.60" y="1029.50" width="23.20" height="39.70" rx="2.2" fill="#f5f0ee"/><rect x="67.06" y="1034.26" width="22.27" height="33.75" rx="1.5" fill="#e6b096"/><rect x="67.30" y="1061.26" width="21.81" height="6.75" rx="1.5" fill="#dea68a"/><rect x="67.30" y="1029.50" width="21.81" height="5.56" rx="2" fill="#f6eeec"/><path d="M67.30,1033.47 Q78.20,1037.44 89.10,1033.47" stroke="#b4604c" stroke-width="1.1" fill="none"/></g>
<g filter="url(#blur)"><rect x="97.30" y="1029.50" width="23.80" height="39.70" rx="2.2" fill="#f5f0ee"/><rect x="97.78" y="1034.26" width="22.85" height="33.75" rx="1.5" fill="#f6f2f0"/><path d="M97.78,1034.26 L120.62,1034.26 L119.04,1037.04 L117.75,1039.82 L116.81,1042.60 L116.34,1045.38 L116.53,1047.96 L116.93,1050.54 L117.47,1053.12 L118.12,1055.70 L100.27,1055.70 L100.93,1053.12 L101.47,1050.54 L101.87,1047.96 L102.06,1045.38 L101.59,1042.60 L100.65,1039.82 L99.36,1037.04Z" fill="#bc1420" opacity="1"/><rect x="98.25" y="1063.64" width="21.90" height="4.76" rx="1.5" fill="#8f8880"/><rect x="98.01" y="1029.50" width="22.37" height="5.56" rx="2" fill="#f6eeec"/><path d="M98.01,1033.47 Q109.20,1037.44 120.39,1033.47" stroke="#b4604c" stroke-width="1.1" fill="none"/></g>
<g filter="url(#blur)"><rect x="128.00" y="1029.50" width="22.50" height="39.70" rx="2.2" fill="#f5f0ee"/><rect x="128.45" y="1035.06" width="21.60" height="32.95" rx="1.5" fill="#f7f4f2"/><path d="M130.25,1035.85 L148.25,1035.85 L145.55,1039.42 L146.45,1049.35 L137.00,1051.34 L136.55,1041.41 L131.38,1039.42Z" fill="#a40f1a" opacity="1"/><rect x="128.90" y="1064.04" width="20.70" height="4.37" rx="1.5" fill="#77726c"/><rect x="128.68" y="1029.50" width="21.15" height="6.35" rx="2" fill="#f6eeec"/><path d="M128.68,1034.26 Q139.25,1038.23 149.82,1034.26" stroke="#b4604c" stroke-width="1.1" fill="none"/></g>
<g filter="url(#blur)"><rect x="157.80" y="1029.50" width="22.90" height="39.70" rx="2.2" fill="#f5f0ee"/><rect x="158.26" y="1035.06" width="21.98" height="32.95" rx="1.5" fill="#f7f4f2"/><path d="M162.38,1036.25 L176.58,1036.25 L173.37,1039.82 L174.29,1048.16 L168.10,1049.35 L167.42,1040.62 L163.53,1039.03Z" fill="#8e0c18" opacity="1"/><rect x="158.72" y="1064.04" width="21.07" height="4.37" rx="1.5" fill="#77726c"/><rect x="158.49" y="1029.50" width="21.53" height="6.35" rx="2" fill="#f6eeec"/><path d="M158.49,1034.26 Q169.25,1038.23 180.01,1034.26" stroke="#b4604c" stroke-width="1.1" fill="none"/></g>
<g filter="url(#blur)"><rect x="188.20" y="1029.50" width="22.60" height="39.70" rx="2.2" fill="#f5f0ee"/><rect x="188.65" y="1035.06" width="21.70" height="32.95" rx="1.5" fill="#f7f4f2"/><path d="M192.72,1036.25 L206.73,1036.25 L203.57,1039.82 L204.47,1048.16 L198.37,1049.35 L197.69,1040.62 L193.85,1039.03Z" fill="#8e0c18" opacity="1"/><rect x="189.10" y="1064.04" width="20.79" height="4.37" rx="1.5" fill="#77726c"/><rect x="188.88" y="1029.50" width="21.24" height="6.35" rx="2" fill="#f6eeec"/><path d="M188.88,1034.26 Q199.50,1038.23 210.12,1034.26" stroke="#b4604c" stroke-width="1.1" fill="none"/></g>
<g filter="url(#blur)"><rect x="66.60" y="1075.60" width="23.20" height="39.80" rx="2.2" fill="#f5f0ee"/><rect x="67.06" y="1081.97" width="22.27" height="32.24" rx="1.5" fill="#e4aa8a"/><rect x="67.30" y="1107.44" width="21.81" height="6.77" rx="1.5" fill="#daa080"/><rect x="67.30" y="1075.60" width="21.81" height="7.96" rx="2" fill="#f6eeec"/><path d="M67.30,1081.97 Q78.20,1085.95 89.10,1081.97" stroke="#b4604c" stroke-width="1.1" fill="none"/></g>
<g filter="url(#blur)"><rect x="97.30" y="1075.60" width="23.80" height="39.80" rx="2.2" fill="#f5f0ee"/><rect x="97.78" y="1081.17" width="22.85" height="33.03" rx="1.5" fill="#f0d8ca"/><path d="M97.54,1081.57 L120.86,1081.57 L119.72,1085.05 L118.79,1088.53 L118.10,1092.02 L117.77,1095.50 L118.08,1100.18 L118.71,1104.85 L119.57,1109.53 L120.62,1114.21 L97.78,1114.21 L98.83,1109.53 L99.69,1104.85 L100.32,1100.18 L100.63,1095.50 L100.30,1092.02 L99.61,1088.53 L98.68,1085.05Z" fill="#d27c58" opacity="1"/><rect x="98.49" y="1109.83" width="21.42" height="4.38" rx="1.5" fill="#c88a66"/><rect x="98.01" y="1075.60" width="22.37" height="6.77" rx="2" fill="#f6eeec"/><path d="M98.01,1080.77 Q109.20,1084.75 120.39,1080.77" stroke="#b4604c" stroke-width="1.1" fill="none"/></g>
<g filter="url(#blur)"><rect x="128.00" y="1075.60" width="22.50" height="39.80" rx="2.2" fill="#f5f0ee"/><rect x="128.45" y="1080.38" width="21.60" height="33.83" rx="1.5" fill="#f6f1ee"/><path d="M128.45,1080.77 L150.05,1080.77 L148.80,1083.96 L147.79,1087.14 L147.04,1090.33 L146.68,1093.51 L146.97,1096.99 L147.57,1100.47 L148.38,1103.96 L149.38,1107.44 L129.12,1107.44 L130.12,1103.96 L130.93,1100.47 L131.53,1096.99 L131.82,1093.51 L131.46,1090.33 L130.71,1087.14 L129.70,1083.96Z" fill="#cf5436" opacity="1"/><rect x="128.90" y="1110.62" width="20.70" height="3.98" rx="1.5" fill="#9a948a"/><rect x="128.68" y="1075.60" width="21.15" height="5.57" rx="2" fill="#f6eeec"/><path d="M128.68,1079.58 Q139.25,1083.56 149.82,1079.58" stroke="#b4604c" stroke-width="1.1" fill="none"/></g>
<g filter="url(#blur)"><rect x="157.80" y="1075.60" width="22.90" height="39.80" rx="2.2" fill="#f5f0ee"/><rect x="158.26" y="1079.58" width="21.98" height="34.63" rx="1.5" fill="#f6f2ef"/><path d="M162.84,1079.58 L179.78,1079.58 L179.78,1099.48 L170.40,1100.28 L166.50,1097.49 L165.59,1092.32 L166.96,1086.74 L164.67,1082.76Z" fill="#d24e2e" opacity="1"/><rect x="158.72" y="1110.23" width="21.07" height="4.38" rx="1.5" fill="#9c9478"/><rect x="158.49" y="1075.60" width="21.53" height="4.78" rx="2" fill="#f6eeec"/><path d="M158.49,1078.78 Q169.25,1082.76 180.01,1078.78" stroke="#b4604c" stroke-width="1.1" fill="none"/></g>
<g filter="url(#blur)"><rect x="188.20" y="1075.60" width="22.60" height="39.80" rx="2.2" fill="#f5f0ee"/><rect x="188.65" y="1079.58" width="21.70" height="34.63" rx="1.5" fill="#f6f2ef"/><path d="M193.17,1079.58 L209.90,1079.58 L209.90,1099.48 L200.63,1100.28 L196.79,1097.49 L195.88,1092.32 L197.24,1086.74 L194.98,1082.76Z" fill="#d24e2e" opacity="1"/><rect x="189.10" y="1110.23" width="20.79" height="4.38" rx="1.5" fill="#9c9478"/><rect x="188.88" y="1075.60" width="21.24" height="4.78" rx="2" fill="#f6eeec"/><path d="M188.88,1078.78 Q199.50,1082.76 210.12,1078.78" stroke="#b4604c" stroke-width="1.1" fill="none"/></g>
<text x="39.00" y="1009.43" font-size="9.8" text-anchor="middle" font-family='"Liberation Serif", serif' font-weight="normal" fill="#111" stroke="#111" stroke-width="0.25">WT</text>
<text x="22.74" y="1056.43" font-size="9.5" font-family='"Liberation Serif", serif' fill="#111" stroke="#111" stroke-width="0.25">COMP<tspan font-size="5.70" dy="-3.61">-/-</tspan></text>
<text x="22.74" y="1098.03" font-size="9.5" font-family='"Liberation Serif", serif' fill="#111" stroke="#111" stroke-width="0.25">COMP<tspan font-size="5.70" dy="-3.61">-/-</tspan></text>
<text x="39.30" y="1110.13" font-size="9.8" text-anchor="middle" font-family='"Liberation Serif", serif' font-weight="normal" fill="#111" stroke="#111" stroke-width="0.25">+COMP</text>
<text x="77.50" y="1132.63" font-size="9.8" text-anchor="middle" font-family='"Liberation Serif", serif' font-weight="normal" fill="#111" stroke="#111" stroke-width="0.25">0</text>
<text x="107.50" y="1132.63" font-size="9.8" text-anchor="middle" font-family='"Liberation Serif", serif' font-weight="normal" fill="#111" stroke="#111" stroke-width="0.25">30</text>
<text x="137.50" y="1132.63" font-size="9.8" text-anchor="middle" font-family='"Liberation Serif", serif' font-weight="normal" fill="#111" stroke="#111" stroke-width="0.25">60</text>
<text x="167.50" y="1132.63" font-size="9.8" text-anchor="middle" font-family='"Liberation Serif", serif' font-weight="normal" fill="#111" stroke="#111" stroke-width="0.25">90</text>
<text x="197.00" y="1132.63" font-size="9.8" text-anchor="middle" font-family='"Liberation Serif", serif' font-weight="normal" fill="#111" stroke="#111" stroke-width="0.25">120</text>
<text x="226.00" y="1132.63" font-size="9.8" text-anchor="middle" font-family='"Liberation Serif", serif' font-weight="normal" fill="#111" stroke="#111" stroke-width="0.25">(min)</text>
<line x1="292.60" y1="994.70" x2="292.60" y2="1117.30" stroke="#111" stroke-width="1.5"/>
<line x1="289.00" y1="995.40" x2="292.60" y2="995.40" stroke="#111" stroke-width="1.5"/>
<text x="282.60" y="998.80" font-size="10" text-anchor="end" font-family='"Liberation Serif", serif' font-weight="normal" fill="#111" stroke="#111" stroke-width="0.25">100</text>
<line x1="289.00" y1="1019.60" x2="292.60" y2="1019.60" stroke="#111" stroke-width="1.5"/>
<text x="282.60" y="1023.00" font-size="10" text-anchor="end" font-family='"Liberation Serif", serif' font-weight="normal" fill="#111" stroke="#111" stroke-width="0.25">80</text>
<line x1="289.00" y1="1043.90" x2="292.60" y2="1043.90" stroke="#111" stroke-width="1.5"/>
<text x="282.60" y="1047.30" font-size="10" text-anchor="end" font-family='"Liberation Serif", serif' font-weight="normal" fill="#111" stroke="#111" stroke-width="0.25">60</text>
<line x1="289.00" y1="1068.00" x2="292.60" y2="1068.00" stroke="#111" stroke-width="1.5"/>
<text x="282.60" y="1071.40" font-size="10" text-anchor="end" font-family='"Liberation Serif", serif' font-weight="normal" fill="#111" stroke="#111" stroke-width="0.25">40</text>
<line x1="289.00" y1="1092.40" x2="292.60" y2="1092.40" stroke="#111" stroke-width="1.5"/>
<text x="282.60" y="1095.80" font-size="10" text-anchor="end" font-family='"Liberation Serif", serif' font-weight="normal" fill="#111" stroke="#111" stroke-width="0.25">20</text>
<line x1="289.00" y1="1116.60" x2="292.60" y2="1116.60" stroke="#111" stroke-width="1.5"/>
<text x="282.60" y="1120.00" font-size="10" text-anchor="end" font-family='"Liberation Serif", serif' font-weight="normal" fill="#111" stroke="#111" stroke-width="0.25">0</text>
<line x1="292.60" y1="1116.60" x2="458.00" y2="1116.60" stroke="#111" stroke-width="1.5"/>
<line x1="325.85" y1="1116.60" x2="325.85" y2="1119.60" stroke="#111" stroke-width="1.3"/>
<line x1="363.40" y1="1116.60" x2="363.40" y2="1119.60" stroke="#111" stroke-width="1.3"/>
<line x1="401.30" y1="1116.60" x2="401.30" y2="1119.60" stroke="#111" stroke-width="1.3"/>
<line x1="438.05" y1="1116.60" x2="438.05" y2="1119.60" stroke="#111" stroke-width="1.3"/>
<rect x="312.70" y="1082.30" width="7.30" height="34.20" fill="#4f7fc0"/>
<line x1="316.35" y1="1082.30" x2="316.35" y2="1076.40" stroke="#4f7fc0" stroke-width="1.1"/>
<line x1="314.15" y1="1076.40" x2="318.55" y2="1076.40" stroke="#4f7fc0" stroke-width="1.1"/>
<rect x="322.00" y="1030.60" width="7.70" height="85.90" fill="#c0504d"/>
<line x1="325.85" y1="1030.60" x2="325.85" y2="1027.00" stroke="#c0504d" stroke-width="1.1"/>
<line x1="323.65" y1="1027.00" x2="328.05" y2="1027.00" stroke="#c0504d" stroke-width="1.1"/>
<rect x="332.00" y="1072.90" width="7.60" height="43.60" fill="#9bbb59"/>
<line x1="335.80" y1="1072.90" x2="335.80" y2="1071.00" stroke="#9bbb59" stroke-width="1.1"/>
<line x1="333.60" y1="1071.00" x2="338.00" y2="1071.00" stroke="#9bbb59" stroke-width="1.1"/>
<polyline points="315.9,1023.0 315.9,1020.4 325.2,1020.4 325.2,1023.0" fill="none" stroke="#111" stroke-width="1.1" stroke-linejoin="round"/>
<polyline points="326.5,1023.0 326.5,1020.4 336.3,1020.4 336.3,1023.0" fill="none" stroke="#111" stroke-width="1.1" stroke-linejoin="round"/>
<path d="M321.10,1018.60L321.10,1010.60M317.64,1016.60L324.56,1012.60M317.64,1012.60L324.56,1016.60" stroke="#111" stroke-width="1.3" fill="none"/>
<path d="M330.83,1018.60L330.83,1010.60M327.36,1016.60L334.29,1012.60M327.36,1012.60L334.29,1016.60" stroke="#111" stroke-width="1.3" fill="none"/>
<rect x="349.90" y="1077.50" width="7.20" height="39.00" fill="#4f7fc0"/>
<line x1="353.50" y1="1077.50" x2="353.50" y2="1072.90" stroke="#4f7fc0" stroke-width="1.1"/>
<line x1="351.30" y1="1072.90" x2="355.70" y2="1072.90" stroke="#4f7fc0" stroke-width="1.1"/>
<rect x="359.80" y="1019.80" width="7.20" height="96.70" fill="#c0504d"/>
<line x1="363.40" y1="1019.80" x2="363.40" y2="1017.20" stroke="#c0504d" stroke-width="1.1"/>
<line x1="361.20" y1="1017.20" x2="365.60" y2="1017.20" stroke="#c0504d" stroke-width="1.1"/>
<rect x="369.80" y="1047.80" width="7.50" height="68.70" fill="#9bbb59"/>
<line x1="373.55" y1="1047.80" x2="373.55" y2="1044.60" stroke="#9bbb59" stroke-width="1.1"/>
<line x1="371.35" y1="1044.60" x2="375.75" y2="1044.60" stroke="#9bbb59" stroke-width="1.1"/>
<polyline points="353.0,1012.2 353.0,1009.6 362.8,1009.6 362.8,1012.2" fill="none" stroke="#111" stroke-width="1.1" stroke-linejoin="round"/>
<polyline points="364.0,1012.2 364.0,1009.6 374.1,1009.6 374.1,1012.2" fill="none" stroke="#111" stroke-width="1.1" stroke-linejoin="round"/>
<path d="M358.45,1007.80L358.45,999.80M354.99,1005.80L361.91,1001.80M354.99,1001.80L361.91,1005.80" stroke="#111" stroke-width="1.3" fill="none"/>
<path d="M368.48,1007.80L368.48,999.80M365.01,1005.80L371.94,1001.80M365.01,1001.80L371.94,1005.80" stroke="#111" stroke-width="1.3" fill="none"/>
<rect x="386.70" y="1068.00" width="7.80" height="48.50" fill="#4f7fc0"/>
<line x1="390.60" y1="1068.00" x2="390.60" y2="1064.20" stroke="#4f7fc0" stroke-width="1.1"/>
<line x1="388.40" y1="1064.20" x2="392.80" y2="1064.20" stroke="#4f7fc0" stroke-width="1.1"/>
<rect x="397.40" y="1011.70" width="7.80" height="104.80" fill="#c0504d"/>
<line x1="401.30" y1="1011.70" x2="401.30" y2="1008.80" stroke="#c0504d" stroke-width="1.1"/>
<line x1="399.10" y1="1008.80" x2="403.50" y2="1008.80" stroke="#c0504d" stroke-width="1.1"/>
<rect x="407.50" y="1042.90" width="8.10" height="73.60" fill="#9bbb59"/>
<line x1="411.55" y1="1042.90" x2="411.55" y2="1038.60" stroke="#9bbb59" stroke-width="1.1"/>
<line x1="409.35" y1="1038.60" x2="413.75" y2="1038.60" stroke="#9bbb59" stroke-width="1.1"/>
<polyline points="390.1,1004.1 390.1,1001.5 400.7,1001.5 400.7,1004.1" fill="none" stroke="#111" stroke-width="1.1" stroke-linejoin="round"/>
<polyline points="401.9,1004.1 401.9,1001.5 412.1,1001.5 412.1,1004.1" fill="none" stroke="#111" stroke-width="1.1" stroke-linejoin="round"/>
<path d="M395.95,999.70L395.95,991.70M392.49,997.70L399.41,993.70M392.49,993.70L399.41,997.70" stroke="#111" stroke-width="1.3" fill="none"/>
<path d="M406.42,999.70L406.42,991.70M402.96,997.70L409.89,993.70M402.96,993.70L409.89,997.70" stroke="#111" stroke-width="1.3" fill="none"/>
<rect x="424.00" y="1055.00" width="8.00" height="61.50" fill="#4f7fc0"/>
<line x1="428.00" y1="1055.00" x2="428.00" y2="1052.00" stroke="#4f7fc0" stroke-width="1.1"/>
<line x1="425.80" y1="1052.00" x2="430.20" y2="1052.00" stroke="#4f7fc0" stroke-width="1.1"/>
<rect x="434.00" y="1001.60" width="8.10" height="114.90" fill="#c0504d"/>
<line x1="438.05" y1="1001.60" x2="438.05" y2="998.70" stroke="#c0504d" stroke-width="1.1"/>
<line x1="435.85" y1="998.70" x2="440.25" y2="998.70" stroke="#c0504d" stroke-width="1.1"/>
<rect x="444.40" y="1034.80" width="8.10" height="81.70" fill="#9bbb59"/>
<line x1="448.45" y1="1034.80" x2="448.45" y2="1031.30" stroke="#9bbb59" stroke-width="1.1"/>
<line x1="446.25" y1="1031.30" x2="450.65" y2="1031.30" stroke="#9bbb59" stroke-width="1.1"/>
<polyline points="427.5,994.0 427.5,991.4 437.4,991.4 437.4,994.0" fill="none" stroke="#111" stroke-width="1.1" stroke-linejoin="round"/>
<polyline points="438.7,994.0 438.7,991.4 448.9,991.4 448.9,994.0" fill="none" stroke="#111" stroke-width="1.1" stroke-linejoin="round"/>
<path d="M433.02,989.60L433.02,981.60M429.56,987.60L436.49,983.60M429.56,983.60L436.49,987.60" stroke="#111" stroke-width="1.3" fill="none"/>
<path d="M443.25,989.60L443.25,981.60M439.79,987.60L446.71,983.60M439.79,983.60L446.71,987.60" stroke="#111" stroke-width="1.3" fill="none"/>
<text x="293.80" y="1132.93" font-size="9.8" text-anchor="middle" font-family='"Liberation Serif", serif' font-weight="normal" fill="#111" stroke="#111" stroke-width="0.25">0</text>
<text x="325.60" y="1132.93" font-size="9.8" text-anchor="middle" font-family='"Liberation Serif", serif' font-weight="normal" fill="#111" stroke="#111" stroke-width="0.25">30</text>
<text x="363.90" y="1132.93" font-size="9.8" text-anchor="middle" font-family='"Liberation Serif", serif' font-weight="normal" fill="#111" stroke="#111" stroke-width="0.25">60</text>
<text x="400.30" y="1132.93" font-size="9.8" text-anchor="middle" font-family='"Liberation Serif", serif' font-weight="normal" fill="#111" stroke="#111" stroke-width="0.25">90</text>
<text x="438.40" y="1132.93" font-size="9.8" text-anchor="middle" font-family='"Liberation Serif", serif' font-weight="normal" fill="#111" stroke="#111" stroke-width="0.25">120</text>
<text x="469.50" y="1132.93" font-size="9.8" text-anchor="middle" font-family='"Liberation Serif", serif' font-weight="normal" fill="#111" stroke="#111" stroke-width="0.25">(min)</text>
<text x="255.00" y="1063.13" font-size="10.1" text-anchor="middle" font-family='"Liberation Serif", serif' font-weight="normal" fill="#111" stroke="#111" stroke-width="0.25" transform="rotate(-90 255.00 1059.70)">Clot retraction (%)</text>
<line x1="460.00" y1="1001.60" x2="469.50" y2="1001.60" stroke="#4f7fc0" stroke-width="1.6"/>
<line x1="460.00" y1="1017.00" x2="469.50" y2="1017.00" stroke="#c0504d" stroke-width="1.6"/>
<line x1="460.00" y1="1031.30" x2="469.50" y2="1031.30" stroke="#9bbb59" stroke-width="1.6"/>
<text x="473.30" y="1004.93" font-size="9.8" text-anchor="start" font-family='"Liberation Serif", serif' font-weight="normal" fill="#111" stroke="#111" stroke-width="0.25">WT</text>
<text x="473.3" y="1020.33" font-size="9.8" font-family='"Liberation Serif", serif' fill="#111" stroke="#111" stroke-width="0.25">COMP<tspan font-size="5.88" dy="-3.72">-/-</tspan></text>
<text x="473.3" y="1034.63" font-size="9.8" font-family='"Liberation Serif", serif' fill="#111" stroke="#111" stroke-width="0.25">COMP<tspan font-size="5.88" dy="-3.72">-/-</tspan></text>
<text x="473.30" y="1046.53" font-size="9.8" text-anchor="start" font-family='"Liberation Serif", serif' font-weight="normal" fill="#111" stroke="#111" stroke-width="0.25">+COMP</text></svg>
</body></html>
